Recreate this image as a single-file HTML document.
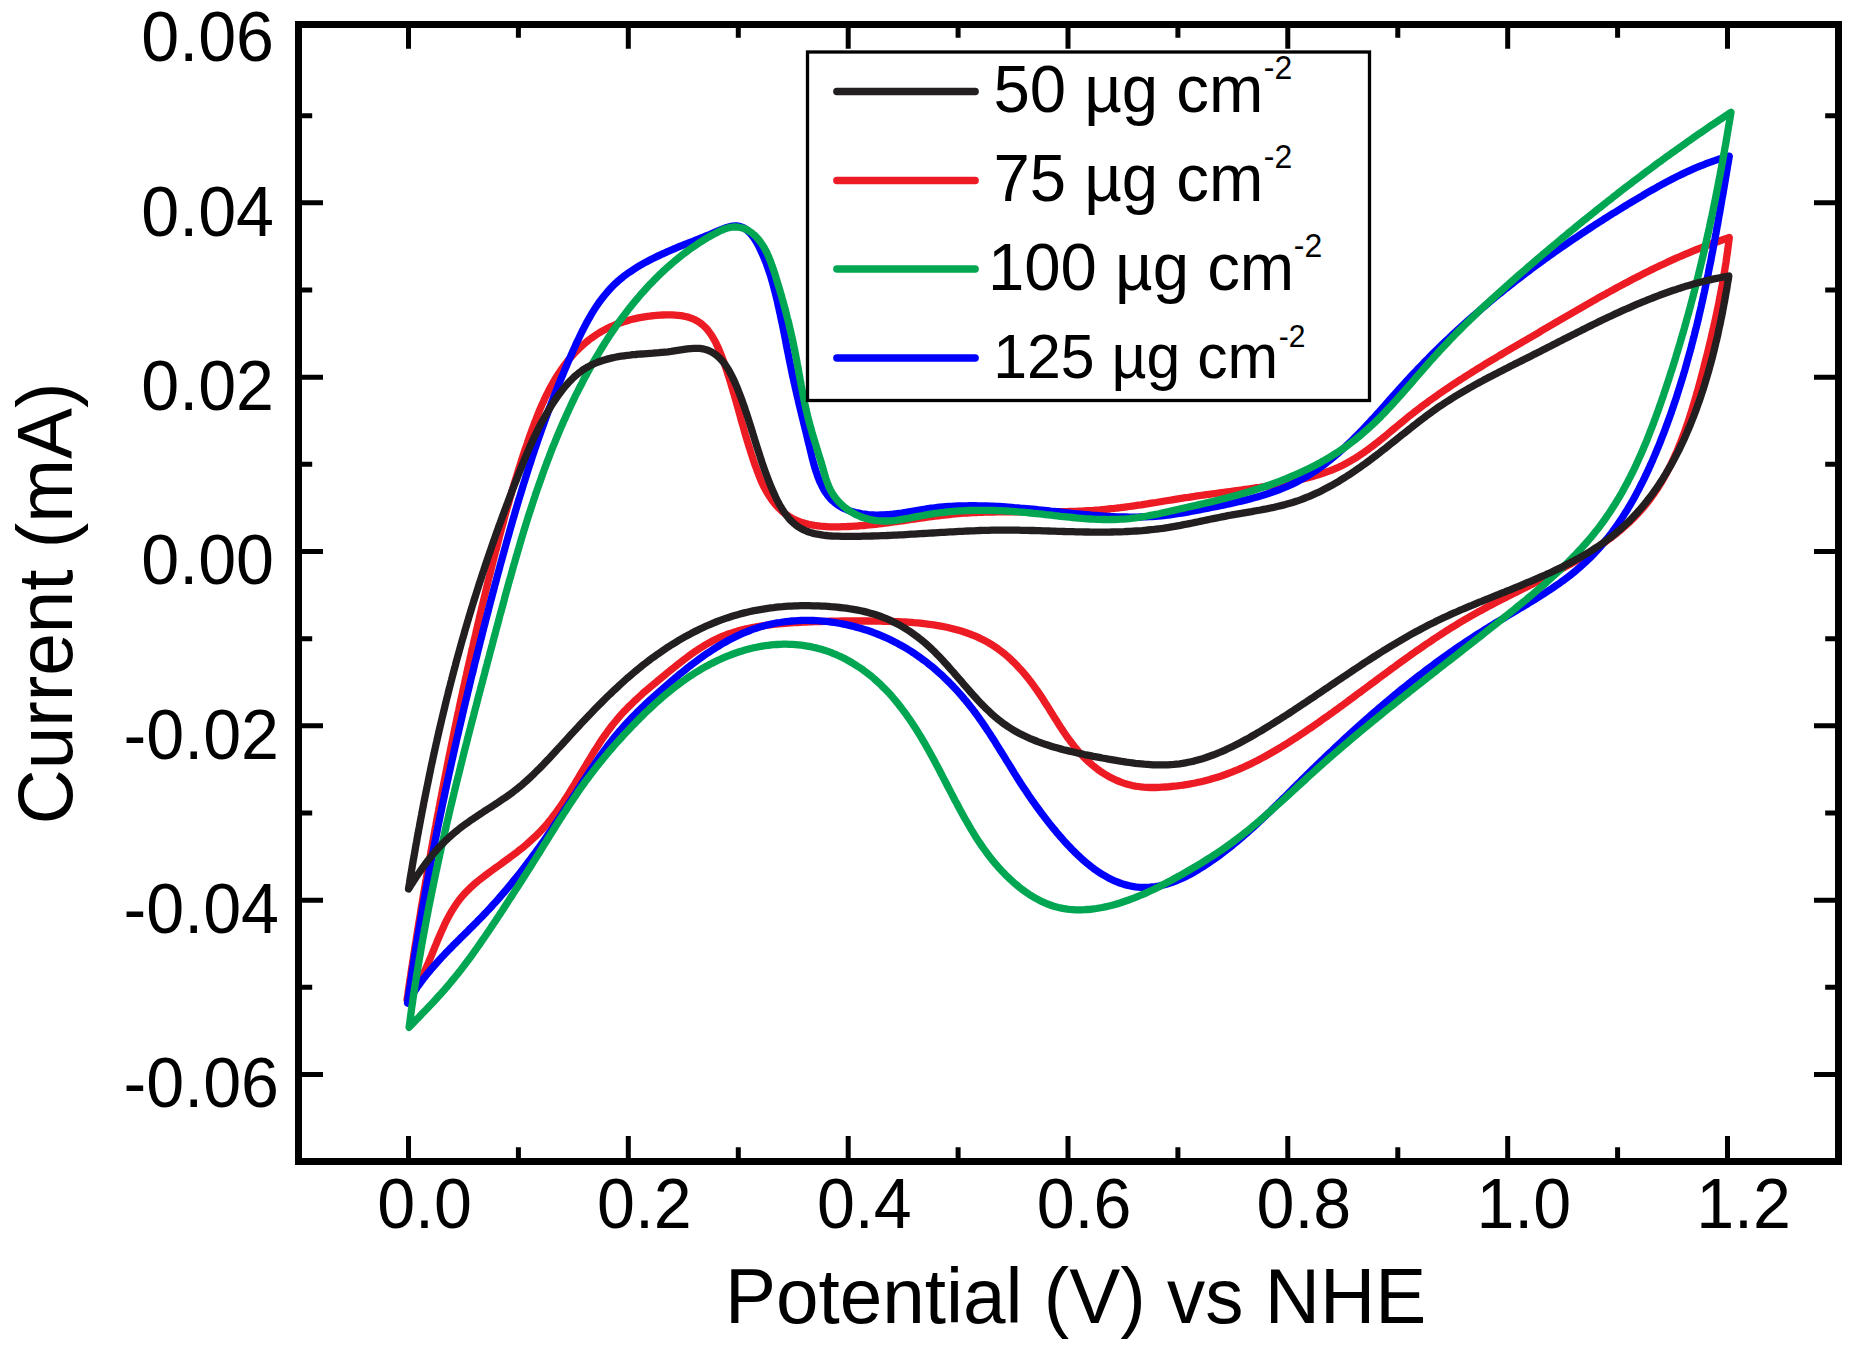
<!DOCTYPE html>
<html lang="en"><head><meta charset="utf-8"><title>Cyclic voltammograms</title>
<style>html,body{margin:0;padding:0;background:#fff}svg{display:block}text{font-family:"Liberation Sans",sans-serif;fill:#000}</style></head><body>
<svg width="1858" height="1350" viewBox="0 0 1858 1350">
<rect width="1858" height="1350" fill="#fff"/>
<g fill="none" stroke-width="7.3" stroke-linejoin="round" stroke-linecap="round">
<path stroke="#ED1C24" d="M407.0,1000.0 407.4,997.0 407.9,994.1 408.3,991.1 408.7,988.2 409.2,985.2 409.6,982.2 410.0,979.3 410.5,976.3 410.9,973.4 411.4,970.4 411.8,967.4 412.3,964.5 412.7,961.5 413.2,958.6 413.6,955.6 414.1,952.6 414.6,949.7 415.0,946.7 415.5,943.7 416.0,940.8 416.4,937.8 416.9,934.9 417.4,931.9 417.9,928.9 418.3,926.0 418.8,923.0 419.3,920.1 419.8,917.1 420.3,914.1 420.8,911.2 421.2,908.2 421.7,905.3 422.2,902.3 422.7,899.3 423.2,896.4 423.7,893.4 424.2,890.5 424.7,887.5 425.2,884.5 425.7,881.6 426.3,878.6 426.8,875.7 427.3,872.7 427.8,869.7 428.3,866.8 428.8,863.8 429.4,860.9 429.9,857.9 430.4,855.0 430.9,852.0 431.5,849.0 432.0,846.1 432.5,843.1 433.1,840.2 433.6,837.2 434.2,834.3 434.7,831.3 435.2,828.3 435.8,825.4 436.3,822.4 436.9,819.5 437.4,816.5 438.0,813.6 438.6,810.6 439.1,807.7 439.7,804.7 440.2,801.8 440.8,798.8 441.4,795.9 441.9,792.9 442.5,790.0 443.1,787.0 443.7,784.1 444.2,781.1 444.8,778.2 445.4,775.2 446.0,772.3 446.6,769.3 447.1,766.4 447.7,763.4 448.3,760.5 448.9,757.5 449.5,754.6 450.1,751.6 450.7,748.7 451.3,745.8 451.9,742.8 452.5,739.9 453.1,736.9 453.7,734.0 454.3,731.0 454.9,728.1 455.6,725.2 456.2,722.2 456.8,719.3 457.4,716.3 458.0,713.4 458.7,710.5 459.3,707.5 459.9,704.6 460.5,701.7 461.2,698.7 461.8,695.8 462.4,692.9 463.1,689.9 463.7,687.0 464.4,684.1 465.0,681.1 465.6,678.2 466.3,675.3 466.9,672.3 467.6,669.4 468.2,666.5 468.9,663.6 469.6,660.6 470.2,657.7 470.9,654.8 471.5,651.9 472.2,648.9 472.9,646.0 473.5,643.1 474.2,640.2 474.9,637.3 475.6,634.3 476.2,631.4 476.9,628.5 477.6,625.6 478.3,622.7 479.0,619.8 479.6,616.8 480.3,613.9 481.0,611.0 481.7,608.1 482.4,605.2 483.1,602.3 483.8,599.4 484.5,596.5 485.2,593.6 485.9,590.7 486.6,587.7 487.3,584.8 488.0,581.9 488.7,579.0 489.4,576.1 490.2,573.2 490.9,570.3 491.6,567.4 492.3,564.5 493.0,561.6 493.8,558.7 494.5,555.9 495.2,553.0 496.0,550.1 496.7,547.2 497.5,544.3 498.2,541.4 499.0,538.5 499.7,535.6 500.5,532.7 501.2,529.8 502.0,527.0 502.8,524.1 503.6,521.2 504.3,518.3 505.1,515.4 505.9,512.5 506.7,509.7 507.5,506.8 508.4,503.9 509.2,501.0 510.0,498.1 510.8,495.3 511.7,492.4 512.5,489.5 513.4,486.6 514.2,483.8 515.1,480.9 516.0,478.0 516.9,475.1 517.8,472.3 518.7,469.4 519.6,466.5 520.5,463.7 521.4,460.8 522.3,457.9 523.3,455.1 524.2,452.2 525.2,449.3 526.2,446.5 527.2,443.6 528.1,440.7 529.1,437.9 530.1,435.0 531.2,432.2 532.2,429.3 533.3,426.5 534.3,423.6 535.4,420.8 536.5,418.0 537.6,415.1 538.8,412.3 539.9,409.5 541.1,406.8 542.3,404.0 543.6,401.3 544.8,398.5 546.1,395.8 547.5,393.1 548.8,390.5 550.2,387.8 551.6,385.2 553.1,382.6 554.6,380.0 556.1,377.5 557.7,375.0 559.3,372.5 561.0,370.0 562.7,367.6 564.4,365.2 566.2,362.9 568.0,360.6 569.9,358.3 571.9,356.0 573.9,353.8 575.9,351.7 578.0,349.6 580.1,347.5 582.3,345.5 584.6,343.5 586.9,341.6 589.3,339.7 591.7,337.9 594.1,336.2 596.6,334.5 599.2,332.9 601.7,331.4 604.4,329.9 607.0,328.6 609.7,327.2 612.5,326.0 615.2,324.8 618.0,323.8 620.9,322.7 623.7,321.8 626.6,320.9 629.5,320.0 632.5,319.3 635.4,318.6 638.4,317.9 641.4,317.4 644.4,316.9 647.5,316.4 650.5,316.0 653.6,315.7 656.7,315.4 659.8,315.1 662.9,315.0 665.9,314.9 669.0,314.8 672.1,314.9 675.1,315.1 678.1,315.3 681.0,315.7 683.9,316.2 686.7,316.8 689.4,317.6 692.1,318.5 694.6,319.6 697.1,320.9 699.4,322.3 701.6,324.0 703.7,325.8 705.7,327.7 707.6,329.8 709.3,332.1 711.0,334.5 712.6,337.0 714.1,339.6 715.6,342.3 716.9,345.1 718.2,347.9 719.5,350.8 720.7,353.7 721.8,356.6 722.9,359.6 724.0,362.6 725.0,365.5 726.0,368.4 727.0,371.4 727.9,374.3 728.9,377.2 729.8,380.1 730.7,383.0 731.5,385.8 732.4,388.7 733.2,391.6 734.1,394.4 734.9,397.3 735.7,400.1 736.5,403.0 737.3,405.8 738.1,408.6 738.9,411.5 739.7,414.3 740.5,417.2 741.2,420.0 742.0,422.9 742.9,425.7 743.7,428.6 744.5,431.5 745.3,434.3 746.2,437.2 747.0,440.1 747.9,442.9 748.8,445.8 749.7,448.7 750.6,451.5 751.5,454.4 752.5,457.3 753.4,460.2 754.4,463.1 755.4,465.9 756.5,468.8 757.5,471.7 758.6,474.5 759.7,477.4 760.9,480.2 762.1,483.0 763.4,485.8 764.8,488.5 766.3,491.2 767.8,493.8 769.4,496.3 771.1,498.8 772.9,501.2 774.7,503.6 776.6,505.8 778.6,507.9 780.7,510.0 782.9,511.9 785.1,513.7 787.4,515.4 789.8,517.0 792.3,518.4 794.9,519.7 797.5,520.8 800.2,521.9 803.0,522.8 805.8,523.6 808.6,524.3 811.5,524.9 814.5,525.4 817.5,525.8 820.5,526.2 823.6,526.4 826.6,526.6 829.7,526.8 832.8,526.8 835.9,526.8 839.1,526.8 842.2,526.7 845.3,526.6 848.4,526.5 851.4,526.4 854.5,526.2 857.6,526.0 860.6,525.7 863.7,525.5 866.7,525.2 869.7,524.9 872.7,524.6 875.7,524.3 878.7,523.9 881.7,523.6 884.7,523.2 887.7,522.8 890.6,522.4 893.6,522.0 896.6,521.6 899.5,521.2 902.5,520.8 905.4,520.3 908.4,519.9 911.3,519.5 914.2,519.1 917.2,518.6 920.1,518.2 923.1,517.8 926.0,517.4 928.9,517.0 931.9,516.6 934.8,516.2 937.7,515.8 940.7,515.5 943.6,515.1 946.5,514.8 949.5,514.5 952.4,514.2 955.4,513.9 958.3,513.6 961.3,513.4 964.3,513.2 967.2,513.0 970.2,512.8 973.2,512.7 976.2,512.5 979.2,512.4 982.1,512.3 985.1,512.2 988.1,512.1 991.1,512.0 994.1,512.0 997.1,511.9 1000.1,511.9 1003.2,511.8 1006.2,511.8 1009.2,511.8 1012.2,511.8 1015.2,511.8 1018.2,511.8 1021.2,511.8 1024.3,511.8 1027.3,511.8 1030.3,511.8 1033.3,511.8 1036.3,511.8 1039.4,511.8 1042.4,511.8 1045.4,511.8 1048.4,511.8 1051.5,511.8 1054.5,511.7 1057.5,511.7 1060.5,511.7 1063.5,511.6 1066.5,511.6 1069.6,511.5 1072.6,511.4 1075.6,511.3 1078.6,511.2 1081.6,511.1 1084.6,510.9 1087.6,510.7 1090.6,510.6 1093.6,510.4 1096.6,510.1 1099.6,509.9 1102.6,509.6 1105.6,509.3 1108.5,509.0 1111.5,508.7 1114.5,508.4 1117.5,508.0 1120.4,507.7 1123.4,507.3 1126.4,506.9 1129.3,506.5 1132.3,506.1 1135.3,505.7 1138.2,505.2 1141.2,504.8 1144.1,504.3 1147.1,503.9 1150.0,503.4 1153.0,502.9 1156.0,502.5 1158.9,502.0 1161.9,501.5 1164.8,501.0 1167.8,500.5 1170.7,500.1 1173.7,499.6 1176.6,499.1 1179.6,498.6 1182.6,498.2 1185.5,497.7 1188.5,497.3 1191.5,496.8 1194.4,496.4 1197.4,495.9 1200.4,495.5 1203.3,495.1 1206.3,494.7 1209.3,494.3 1212.2,493.9 1215.2,493.5 1218.2,493.1 1221.2,492.7 1224.1,492.3 1227.1,491.9 1230.1,491.5 1233.1,491.1 1236.1,490.7 1239.0,490.3 1242.0,489.9 1245.0,489.4 1248.0,489.0 1250.9,488.6 1253.9,488.2 1256.9,487.7 1259.8,487.3 1262.8,486.8 1265.8,486.3 1268.7,485.8 1271.7,485.4 1274.7,484.8 1277.6,484.3 1280.6,483.8 1283.5,483.2 1286.5,482.6 1289.4,482.1 1292.3,481.4 1295.3,480.8 1298.2,480.2 1301.1,479.5 1304.1,478.8 1307.0,478.0 1309.9,477.3 1312.7,476.5 1315.6,475.6 1318.5,474.8 1321.3,473.9 1324.1,472.9 1326.9,471.9 1329.7,470.9 1332.5,469.8 1335.2,468.7 1337.9,467.5 1340.6,466.2 1343.2,464.9 1345.8,463.6 1348.4,462.1 1351.0,460.7 1353.6,459.2 1356.1,457.6 1358.6,456.0 1361.1,454.3 1363.5,452.7 1366.0,450.9 1368.4,449.2 1370.8,447.4 1373.2,445.6 1375.6,443.7 1378.0,441.9 1380.3,440.0 1382.7,438.1 1385.0,436.2 1387.4,434.2 1389.7,432.3 1392.0,430.4 1394.4,428.4 1396.7,426.5 1399.1,424.5 1401.4,422.6 1403.7,420.7 1406.1,418.7 1408.4,416.8 1410.8,414.9 1413.2,413.1 1415.6,411.2 1418.0,409.4 1420.4,407.5 1422.8,405.7 1425.2,403.9 1427.6,402.2 1430.0,400.4 1432.5,398.6 1434.9,396.9 1437.4,395.2 1439.8,393.4 1442.3,391.7 1444.8,390.0 1447.3,388.4 1449.7,386.7 1452.2,385.0 1454.7,383.4 1457.2,381.7 1459.7,380.1 1462.3,378.5 1464.8,376.9 1467.3,375.3 1469.8,373.7 1472.3,372.1 1474.9,370.5 1477.4,368.9 1480.0,367.3 1482.5,365.8 1485.1,364.2 1487.6,362.7 1490.2,361.1 1492.7,359.6 1495.3,358.1 1497.9,356.5 1500.4,355.0 1503.0,353.5 1505.6,351.9 1508.2,350.4 1510.7,348.9 1513.3,347.4 1515.9,345.9 1518.5,344.4 1521.1,342.9 1523.6,341.3 1526.2,339.8 1528.8,338.3 1531.4,336.8 1534.0,335.3 1536.6,333.8 1539.1,332.3 1541.7,330.7 1544.3,329.2 1546.9,327.7 1549.5,326.2 1552.1,324.7 1554.6,323.2 1557.2,321.6 1559.8,320.1 1562.4,318.6 1565.0,317.1 1567.6,315.6 1570.2,314.1 1572.8,312.6 1575.4,311.1 1578.0,309.6 1580.6,308.1 1583.2,306.6 1585.8,305.1 1588.4,303.6 1591.0,302.1 1593.6,300.6 1596.2,299.2 1598.8,297.7 1601.4,296.2 1604.1,294.8 1606.7,293.3 1609.3,291.9 1611.9,290.4 1614.6,289.0 1617.2,287.5 1619.8,286.1 1622.5,284.7 1625.1,283.3 1627.8,281.9 1630.4,280.5 1633.1,279.1 1635.7,277.7 1638.4,276.4 1641.1,275.0 1643.7,273.6 1646.4,272.3 1649.1,271.0 1651.8,269.6 1654.5,268.3 1657.2,267.0 1659.9,265.7 1662.6,264.5 1665.3,263.2 1668.0,261.9 1670.7,260.7 1673.5,259.4 1676.2,258.2 1678.9,257.0 1681.7,255.8 1684.4,254.6 1687.2,253.5 1689.9,252.3 1692.7,251.1 1695.5,250.0 1698.3,248.9 1701.0,247.8 1703.8,246.7 1706.6,245.6 1709.4,244.6 1712.3,243.5 1715.1,242.5 1717.9,241.5 1720.7,240.5 1723.6,239.5 1726.4,238.5 1729.3,237.6 1728.9,240.8 1728.5,243.9 1728.1,247.0 1727.7,250.1 1727.3,253.2 1726.8,256.2 1726.4,259.2 1726.0,262.3 1725.5,265.3 1725.0,268.2 1724.6,271.2 1724.1,274.2 1723.6,277.1 1723.1,280.0 1722.6,282.9 1722.1,285.8 1721.5,288.7 1721.0,291.6 1720.4,294.5 1719.9,297.3 1719.3,300.2 1718.8,303.0 1718.2,305.9 1717.6,308.7 1717.0,311.6 1716.4,314.4 1715.8,317.2 1715.2,320.1 1714.6,322.9 1713.9,325.7 1713.3,328.5 1712.6,331.4 1712.0,334.2 1711.3,337.0 1710.7,339.9 1710.0,342.7 1709.3,345.6 1708.6,348.4 1707.9,351.3 1707.2,354.1 1706.4,357.0 1705.7,359.9 1705.0,362.8 1704.2,365.7 1703.5,368.6 1702.7,371.6 1702.0,374.5 1701.2,377.5 1700.4,380.4 1699.6,383.4 1698.8,386.4 1698.0,389.3 1697.1,392.3 1696.3,395.3 1695.4,398.3 1694.5,401.3 1693.7,404.3 1692.7,407.2 1691.8,410.2 1690.9,413.2 1689.9,416.2 1689.0,419.1 1688.0,422.1 1687.0,425.1 1685.9,428.0 1684.9,430.9 1683.8,433.9 1682.7,436.8 1681.6,439.7 1680.5,442.6 1679.3,445.5 1678.2,448.3 1677.0,451.2 1675.7,454.0 1674.5,456.8 1673.2,459.6 1671.9,462.4 1670.6,465.1 1669.2,467.8 1667.8,470.5 1666.4,473.2 1665.0,475.8 1663.5,478.5 1662.0,481.1 1660.5,483.6 1658.9,486.2 1657.3,488.7 1655.7,491.1 1654.0,493.6 1652.3,496.0 1650.6,498.4 1648.8,500.7 1647.0,503.0 1645.2,505.3 1643.3,507.5 1641.4,509.7 1639.5,511.8 1637.5,514.0 1635.5,516.1 1633.5,518.1 1631.4,520.2 1629.4,522.2 1627.2,524.1 1625.1,526.1 1622.9,528.0 1620.7,529.9 1618.5,531.8 1616.3,533.6 1614.0,535.4 1611.7,537.2 1609.4,538.9 1607.0,540.7 1604.7,542.4 1602.3,544.1 1599.9,545.8 1597.4,547.4 1595.0,549.1 1592.5,550.7 1590.0,552.3 1587.5,553.9 1585.0,555.4 1582.5,557.0 1579.9,558.5 1577.4,560.0 1574.8,561.5 1572.2,563.0 1569.6,564.5 1567.0,565.9 1564.4,567.4 1561.7,568.8 1559.1,570.3 1556.4,571.7 1553.7,573.1 1551.1,574.5 1548.4,575.9 1545.7,577.3 1543.0,578.7 1540.3,580.1 1537.6,581.5 1534.8,582.8 1532.1,584.2 1529.4,585.6 1526.7,586.9 1524.0,588.3 1521.2,589.7 1518.5,591.0 1515.8,592.4 1513.0,593.8 1510.3,595.2 1507.6,596.5 1504.9,597.9 1502.1,599.3 1499.4,600.7 1496.7,602.1 1494.0,603.5 1491.3,604.9 1488.6,606.3 1485.9,607.8 1483.3,609.2 1480.6,610.7 1477.9,612.1 1475.3,613.6 1472.6,615.1 1470.0,616.6 1467.4,618.1 1464.8,619.6 1462.2,621.2 1459.6,622.7 1457.0,624.3 1454.5,625.8 1451.9,627.4 1449.4,629.0 1446.8,630.6 1444.3,632.3 1441.8,633.9 1439.3,635.5 1436.7,637.2 1434.2,638.8 1431.8,640.5 1429.3,642.2 1426.8,643.8 1424.3,645.5 1421.9,647.2 1419.4,648.9 1417.0,650.6 1414.5,652.4 1412.1,654.1 1409.6,655.8 1407.2,657.6 1404.8,659.3 1402.4,661.0 1399.9,662.8 1397.5,664.5 1395.1,666.3 1392.7,668.1 1390.3,669.8 1387.9,671.6 1385.5,673.4 1383.1,675.1 1380.7,676.9 1378.3,678.7 1375.9,680.5 1373.5,682.3 1371.1,684.0 1368.7,685.8 1366.3,687.6 1363.9,689.4 1361.5,691.2 1359.1,692.9 1356.7,694.7 1354.3,696.5 1351.9,698.3 1349.5,700.0 1347.1,701.8 1344.7,703.6 1342.3,705.4 1339.9,707.1 1337.5,708.9 1335.1,710.6 1332.7,712.4 1330.2,714.1 1327.8,715.9 1325.4,717.6 1322.9,719.3 1320.5,721.0 1318.1,722.8 1315.6,724.5 1313.1,726.2 1310.7,727.9 1308.2,729.5 1305.7,731.2 1303.2,732.9 1300.7,734.6 1298.2,736.2 1295.7,737.9 1293.2,739.5 1290.7,741.1 1288.2,742.7 1285.6,744.3 1283.1,745.9 1280.5,747.5 1277.9,749.0 1275.4,750.5 1272.8,752.0 1270.2,753.5 1267.6,755.0 1264.9,756.5 1262.3,757.9 1259.7,759.3 1257.0,760.7 1254.3,762.0 1251.7,763.4 1249.0,764.7 1246.3,765.9 1243.5,767.2 1240.8,768.4 1238.1,769.6 1235.3,770.7 1232.5,771.8 1229.7,772.9 1226.9,774.0 1224.1,775.0 1221.3,776.0 1218.4,776.9 1215.6,777.8 1212.7,778.6 1209.8,779.5 1206.9,780.2 1204.0,781.0 1201.0,781.7 1198.1,782.3 1195.1,783.0 1192.2,783.5 1189.2,784.1 1186.2,784.6 1183.2,785.1 1180.2,785.5 1177.2,785.9 1174.2,786.2 1171.2,786.5 1168.1,786.8 1165.1,787.0 1162.1,787.2 1159.0,787.4 1156.0,787.5 1153.0,787.5 1150.0,787.5 1147.0,787.4 1144.0,787.2 1141.0,786.9 1138.1,786.5 1135.1,786.1 1132.2,785.5 1129.4,784.8 1126.5,784.0 1123.7,783.1 1120.9,782.1 1118.2,781.0 1115.4,779.8 1112.8,778.6 1110.1,777.2 1107.5,775.8 1105.0,774.2 1102.4,772.6 1100.0,771.0 1097.5,769.2 1095.2,767.4 1092.8,765.5 1090.6,763.6 1088.3,761.6 1086.2,759.5 1084.0,757.4 1082.0,755.3 1080.0,753.1 1078.0,750.9 1076.1,748.6 1074.2,746.3 1072.4,743.9 1070.6,741.5 1068.8,739.1 1067.0,736.7 1065.3,734.2 1063.6,731.7 1062.0,729.2 1060.3,726.7 1058.7,724.2 1057.1,721.6 1055.4,719.0 1053.8,716.5 1052.2,713.9 1050.6,711.3 1049.0,708.7 1047.4,706.1 1045.7,703.6 1044.1,701.0 1042.5,698.4 1040.8,695.9 1039.1,693.4 1037.4,690.9 1035.6,688.4 1033.8,685.9 1032.0,683.4 1030.2,681.0 1028.3,678.6 1026.5,676.3 1024.5,673.9 1022.6,671.7 1020.6,669.4 1018.5,667.2 1016.5,665.0 1014.4,662.9 1012.3,660.8 1010.1,658.7 1007.9,656.7 1005.6,654.8 1003.3,652.9 1001.0,651.1 998.6,649.3 996.2,647.6 993.8,646.0 991.3,644.4 988.7,642.8 986.1,641.4 983.5,640.0 980.9,638.7 978.2,637.4 975.4,636.2 972.7,635.1 969.9,634.0 967.0,633.0 964.2,632.0 961.3,631.1 958.5,630.3 955.6,629.5 952.7,628.7 949.7,628.0 946.8,627.3 943.9,626.7 940.9,626.2 937.9,625.6 935.0,625.1 932.0,624.7 929.0,624.3 926.0,623.9 923.0,623.5 920.0,623.2 917.0,622.9 914.0,622.7 911.0,622.4 907.9,622.2 904.9,622.0 901.9,621.9 898.9,621.7 895.8,621.6 892.8,621.5 889.8,621.4 886.8,621.3 883.8,621.3 880.8,621.2 877.7,621.1 874.7,621.1 871.8,621.1 868.8,621.0 865.8,621.0 862.8,621.0 859.8,621.0 856.8,621.0 853.9,621.0 850.9,621.0 847.9,621.0 844.9,621.0 842.0,621.0 839.0,621.1 836.0,621.1 833.1,621.2 830.1,621.2 827.1,621.3 824.1,621.4 821.1,621.5 818.2,621.6 815.2,621.7 812.2,621.8 809.2,621.9 806.2,622.0 803.1,622.2 800.1,622.3 797.1,622.5 794.1,622.6 791.1,622.8 788.0,623.1 785.0,623.3 782.0,623.5 778.9,623.8 775.9,624.1 772.9,624.4 769.9,624.8 766.9,625.2 763.9,625.6 760.9,626.0 757.9,626.5 755.0,627.1 752.0,627.6 749.1,628.2 746.2,628.9 743.3,629.6 740.4,630.3 737.5,631.1 734.7,632.0 731.9,632.9 729.1,633.8 726.3,634.8 723.5,635.9 720.8,637.0 718.1,638.2 715.4,639.5 712.8,640.8 710.2,642.2 707.6,643.6 705.0,645.1 702.5,646.7 700.0,648.3 697.5,649.9 695.0,651.6 692.6,653.3 690.1,655.0 687.7,656.8 685.3,658.6 682.9,660.5 680.5,662.3 678.1,664.2 675.7,666.1 673.4,668.0 671.0,669.9 668.7,671.8 666.3,673.7 664.0,675.7 661.6,677.6 659.3,679.5 657.0,681.4 654.7,683.4 652.3,685.3 650.0,687.2 647.7,689.2 645.5,691.1 643.2,693.1 641.0,695.1 638.8,697.1 636.6,699.1 634.4,701.2 632.2,703.3 630.1,705.3 628.0,707.4 625.9,709.6 623.8,711.7 621.8,713.9 619.8,716.1 617.9,718.4 616.0,720.7 614.1,723.0 612.2,725.3 610.4,727.7 608.6,730.1 606.9,732.5 605.1,735.0 603.4,737.4 601.7,739.9 600.0,742.4 598.4,745.0 596.8,747.5 595.1,750.0 593.5,752.6 591.9,755.2 590.4,757.8 588.8,760.4 587.2,763.0 585.7,765.6 584.1,768.2 582.5,770.8 581.0,773.4 579.4,776.0 577.9,778.6 576.3,781.2 574.8,783.8 573.2,786.4 571.6,789.0 570.0,791.6 568.4,794.1 566.8,796.7 565.1,799.2 563.5,801.7 561.8,804.2 560.1,806.7 558.4,809.1 556.7,811.6 554.9,814.0 553.1,816.3 551.3,818.7 549.4,821.0 547.6,823.3 545.6,825.6 543.7,827.8 541.7,830.0 539.7,832.1 537.6,834.2 535.5,836.3 533.3,838.3 531.1,840.3 528.9,842.3 526.7,844.3 524.4,846.2 522.1,848.1 519.7,849.9 517.4,851.8 515.0,853.6 512.6,855.4 510.2,857.2 507.8,859.0 505.3,860.8 502.9,862.5 500.5,864.3 498.0,866.1 495.6,867.8 493.1,869.6 490.7,871.4 488.2,873.2 485.8,875.0 483.4,876.8 481.1,878.6 478.7,880.5 476.4,882.4 474.2,884.3 472.0,886.3 469.8,888.3 467.7,890.4 465.6,892.5 463.6,894.7 461.7,896.9 459.8,899.2 458.0,901.6 456.3,904.0 454.7,906.4 453.1,908.9 451.5,911.5 450.0,914.1 448.6,916.7 447.2,919.3 445.8,922.0 444.5,924.7 443.3,927.4 442.0,930.2 440.8,932.9 439.6,935.7 438.4,938.5 437.2,941.3 436.1,944.1 434.9,946.9 433.8,949.8 432.6,952.6 431.5,955.4 430.3,958.2 429.1,961.0 428.0,963.8 426.7,966.6 425.5,969.3 424.2,972.0 422.9,974.8 421.6,977.4 420.2,980.1 418.7,982.7 417.2,985.3 415.7,987.9 414.1,990.4 412.4,992.9 410.7,995.3 408.9,997.7 407.0,1000.0Z"/>
<path stroke="#0000FF" d="M407.5,1003.1 407.9,1000.1 408.3,997.2 408.8,994.2 409.2,991.2 409.6,988.3 410.1,985.3 410.5,982.3 411.0,979.3 411.4,976.4 411.8,973.4 412.3,970.4 412.8,967.5 413.2,964.5 413.7,961.5 414.1,958.6 414.6,955.6 415.1,952.7 415.6,949.7 416.0,946.7 416.5,943.8 417.0,940.8 417.5,937.8 418.0,934.9 418.5,931.9 419.0,929.0 419.5,926.0 420.0,923.0 420.5,920.1 421.0,917.1 421.5,914.2 422.0,911.2 422.5,908.2 423.1,905.3 423.6,902.3 424.1,899.4 424.6,896.4 425.2,893.5 425.7,890.5 426.2,887.6 426.8,884.6 427.3,881.6 427.9,878.7 428.4,875.7 429.0,872.8 429.5,869.8 430.1,866.9 430.7,863.9 431.2,861.0 431.8,858.0 432.3,855.1 432.9,852.1 433.5,849.2 434.1,846.2 434.7,843.3 435.2,840.3 435.8,837.4 436.4,834.5 437.0,831.5 437.6,828.6 438.2,825.6 438.8,822.7 439.4,819.7 440.0,816.8 440.6,813.8 441.2,810.9 441.8,808.0 442.4,805.0 443.0,802.1 443.7,799.1 444.3,796.2 444.9,793.3 445.5,790.3 446.2,787.4 446.8,784.4 447.4,781.5 448.1,778.6 448.7,775.6 449.3,772.7 450.0,769.8 450.6,766.8 451.3,763.9 451.9,761.0 452.6,758.0 453.2,755.1 453.9,752.2 454.6,749.2 455.2,746.3 455.9,743.4 456.5,740.4 457.2,737.5 457.9,734.6 458.6,731.7 459.2,728.7 459.9,725.8 460.6,722.9 461.3,719.9 462.0,717.0 462.6,714.1 463.3,711.2 464.0,708.2 464.7,705.3 465.4,702.4 466.1,699.5 466.8,696.6 467.5,693.6 468.2,690.7 468.9,687.8 469.6,684.9 470.3,681.9 471.0,679.0 471.7,676.1 472.5,673.2 473.2,670.3 473.9,667.4 474.6,664.4 475.3,661.5 476.1,658.6 476.8,655.7 477.5,652.8 478.2,649.9 479.0,647.0 479.7,644.0 480.4,641.1 481.2,638.2 481.9,635.3 482.6,632.4 483.4,629.5 484.1,626.6 484.9,623.7 485.6,620.8 486.4,617.9 487.1,615.0 487.9,612.1 488.6,609.1 489.4,606.2 490.1,603.3 490.9,600.4 491.7,597.5 492.4,594.6 493.2,591.7 494.0,588.8 494.7,585.9 495.5,583.0 496.3,580.1 497.0,577.2 497.8,574.3 498.6,571.4 499.4,568.5 500.1,565.6 500.9,562.7 501.7,559.9 502.5,557.0 503.3,554.1 504.1,551.2 504.9,548.3 505.7,545.4 506.5,542.5 507.3,539.6 508.1,536.7 508.9,533.9 509.7,531.0 510.5,528.1 511.4,525.2 512.2,522.3 513.0,519.4 513.9,516.6 514.7,513.7 515.5,510.8 516.4,507.9 517.2,505.1 518.1,502.2 518.9,499.3 519.8,496.5 520.7,493.6 521.6,490.7 522.4,487.9 523.3,485.0 524.2,482.1 525.1,479.3 526.0,476.4 526.9,473.6 527.8,470.7 528.7,467.9 529.6,465.0 530.6,462.2 531.5,459.3 532.4,456.5 533.4,453.6 534.3,450.8 535.3,447.9 536.3,445.1 537.2,442.3 538.2,439.4 539.2,436.6 540.2,433.8 541.2,430.9 542.2,428.1 543.2,425.3 544.2,422.5 545.2,419.7 546.3,416.8 547.3,414.0 548.3,411.2 549.4,408.4 550.5,405.6 551.5,402.8 552.6,400.0 553.7,397.2 554.8,394.4 555.9,391.6 557.0,388.8 558.1,386.0 559.2,383.2 560.4,380.4 561.5,377.6 562.7,374.9 563.8,372.1 565.0,369.3 566.2,366.5 567.3,363.8 568.5,361.0 569.8,358.2 571.0,355.5 572.2,352.7 573.4,350.0 574.7,347.2 575.9,344.4 577.2,341.7 578.5,339.0 579.8,336.2 581.1,333.5 582.4,330.8 583.8,328.1 585.2,325.5 586.6,322.8 588.0,320.2 589.5,317.6 591.0,315.0 592.5,312.4 594.1,309.9 595.7,307.4 597.3,305.0 599.0,302.5 600.8,300.1 602.6,297.8 604.4,295.5 606.3,293.2 608.2,291.0 610.2,288.8 612.2,286.6 614.3,284.5 616.5,282.5 618.7,280.5 621.0,278.6 623.3,276.7 625.7,274.9 628.2,273.1 630.7,271.4 633.2,269.7 635.8,268.0 638.4,266.4 641.0,264.9 643.6,263.4 646.3,261.9 649.0,260.5 651.8,259.0 654.5,257.7 657.2,256.4 660.0,255.1 662.7,253.8 665.5,252.6 668.2,251.3 671.0,250.2 673.7,249.0 676.4,247.9 679.2,246.7 681.9,245.6 684.6,244.5 687.4,243.5 690.1,242.4 692.9,241.3 695.6,240.2 698.4,239.1 701.2,238.0 703.9,236.9 706.7,235.7 709.6,234.6 712.4,233.4 715.2,232.2 718.1,230.9 721.0,229.7 723.8,228.6 726.7,227.5 729.5,226.7 732.3,226.1 735.0,225.9 737.7,226.0 740.3,226.6 742.8,227.5 745.2,228.8 747.4,230.5 749.5,232.5 751.5,234.7 753.4,237.2 755.1,239.8 756.8,242.6 758.4,245.5 759.8,248.4 761.2,251.4 762.5,254.3 763.8,257.2 765.0,260.1 766.1,262.9 767.1,265.8 768.1,268.6 769.1,271.4 770.0,274.2 770.9,277.0 771.7,279.8 772.5,282.5 773.3,285.3 774.0,288.2 774.8,291.0 775.5,293.8 776.2,296.7 776.9,299.6 777.6,302.5 778.2,305.4 778.9,308.3 779.5,311.3 780.2,314.2 780.8,317.2 781.4,320.1 782.1,323.1 782.7,326.1 783.3,329.1 783.9,332.1 784.5,335.1 785.1,338.1 785.7,341.1 786.2,344.1 786.8,347.0 787.4,350.0 788.0,353.0 788.6,356.0 789.2,359.0 789.8,362.0 790.4,364.9 791.0,367.9 791.6,370.8 792.2,373.7 792.8,376.6 793.5,379.5 794.1,382.4 794.8,385.3 795.4,388.2 796.1,391.1 796.7,393.9 797.4,396.8 798.1,399.6 798.7,402.5 799.4,405.3 800.1,408.2 800.8,411.1 801.5,413.9 802.2,416.8 802.9,419.7 803.6,422.6 804.3,425.5 805.0,428.4 805.8,431.3 806.5,434.2 807.2,437.2 807.9,440.2 808.6,443.1 809.4,446.2 810.1,449.2 810.8,452.2 811.6,455.3 812.3,458.3 813.1,461.4 813.9,464.4 814.8,467.4 815.7,470.4 816.7,473.3 817.7,476.2 818.8,479.1 819.9,481.8 821.2,484.5 822.5,487.1 823.9,489.7 825.4,492.1 827.1,494.5 828.8,496.7 830.6,498.8 832.6,500.8 834.7,502.6 837.0,504.4 839.3,505.9 841.8,507.4 844.5,508.7 847.2,509.8 850.0,510.9 852.9,511.8 855.9,512.6 858.9,513.2 861.9,513.8 865.0,514.2 868.1,514.6 871.3,514.8 874.4,515.0 877.5,515.1 880.6,515.0 883.7,514.9 886.7,514.7 889.7,514.5 892.8,514.2 895.7,513.8 898.7,513.4 901.7,513.0 904.6,512.5 907.6,512.0 910.5,511.5 913.5,511.0 916.4,510.5 919.3,510.0 922.2,509.5 925.2,509.1 928.1,508.6 931.0,508.2 934.0,507.9 936.9,507.5 939.8,507.2 942.8,506.9 945.8,506.7 948.7,506.5 951.7,506.3 954.6,506.1 957.6,506.0 960.6,505.9 963.5,505.8 966.5,505.8 969.5,505.7 972.5,505.7 975.4,505.7 978.4,505.8 981.4,505.8 984.4,505.9 987.4,506.0 990.4,506.1 993.4,506.2 996.4,506.4 999.4,506.5 1002.4,506.7 1005.4,506.9 1008.4,507.1 1011.4,507.3 1014.4,507.6 1017.4,507.8 1020.4,508.1 1023.4,508.3 1026.4,508.6 1029.4,508.9 1032.4,509.2 1035.5,509.5 1038.5,509.8 1041.5,510.1 1044.5,510.4 1047.5,510.7 1050.5,511.1 1053.5,511.4 1056.5,511.7 1059.5,512.0 1062.6,512.3 1065.6,512.7 1068.6,513.0 1071.6,513.3 1074.6,513.6 1077.6,513.9 1080.6,514.2 1083.6,514.5 1086.6,514.7 1089.6,515.0 1092.6,515.3 1095.6,515.5 1098.6,515.7 1101.6,515.9 1104.6,516.1 1107.6,516.3 1110.6,516.5 1113.6,516.6 1116.6,516.8 1119.6,516.9 1122.6,517.0 1125.5,517.0 1128.5,517.1 1131.5,517.1 1134.5,517.1 1137.4,517.1 1140.4,517.0 1143.4,516.9 1146.3,516.8 1149.3,516.7 1152.3,516.5 1155.2,516.3 1158.2,516.1 1161.1,515.8 1164.1,515.5 1167.0,515.2 1169.9,514.8 1172.9,514.4 1175.8,514.0 1178.8,513.5 1181.7,513.1 1184.6,512.6 1187.6,512.1 1190.5,511.5 1193.5,511.0 1196.4,510.4 1199.4,509.9 1202.3,509.3 1205.3,508.7 1208.3,508.1 1211.2,507.5 1214.2,506.9 1217.2,506.3 1220.2,505.7 1223.2,505.1 1226.2,504.5 1229.2,503.8 1232.2,503.2 1235.2,502.5 1238.2,501.8 1241.2,501.1 1244.1,500.4 1247.1,499.6 1250.1,498.9 1253.0,498.1 1256.0,497.3 1258.9,496.4 1261.8,495.6 1264.7,494.7 1267.6,493.8 1270.5,492.8 1273.4,491.8 1276.2,490.8 1279.0,489.8 1281.8,488.7 1284.6,487.5 1287.3,486.4 1290.0,485.2 1292.7,483.9 1295.4,482.6 1298.0,481.3 1300.6,479.9 1303.2,478.4 1305.7,477.0 1308.3,475.5 1310.7,473.9 1313.2,472.3 1315.7,470.7 1318.1,469.0 1320.5,467.3 1322.9,465.6 1325.2,463.8 1327.5,462.0 1329.9,460.2 1332.1,458.3 1334.4,456.4 1336.7,454.5 1338.9,452.5 1341.1,450.6 1343.3,448.6 1345.5,446.6 1347.7,444.5 1349.9,442.4 1352.0,440.4 1354.1,438.2 1356.2,436.1 1358.4,434.0 1360.5,431.8 1362.5,429.7 1364.6,427.5 1366.7,425.3 1368.8,423.1 1370.8,420.8 1372.9,418.6 1374.9,416.4 1376.9,414.1 1379.0,411.9 1381.0,409.6 1383.0,407.3 1385.0,405.1 1387.1,402.8 1389.1,400.5 1391.1,398.3 1393.1,396.0 1395.2,393.7 1397.2,391.5 1399.2,389.2 1401.2,387.0 1403.3,384.7 1405.3,382.5 1407.3,380.2 1409.4,378.0 1411.4,375.8 1413.5,373.6 1415.6,371.4 1417.6,369.2 1419.7,367.1 1421.8,364.9 1423.9,362.7 1426.0,360.6 1428.1,358.5 1430.2,356.3 1432.3,354.2 1434.4,352.1 1436.6,350.0 1438.7,347.9 1440.8,345.8 1443.0,343.8 1445.1,341.7 1447.3,339.6 1449.5,337.6 1451.6,335.5 1453.8,333.5 1456.0,331.5 1458.2,329.5 1460.4,327.5 1462.6,325.5 1464.8,323.5 1467.0,321.5 1469.2,319.5 1471.5,317.5 1473.7,315.6 1475.9,313.6 1478.2,311.7 1480.5,309.7 1482.7,307.8 1485.0,305.9 1487.3,304.0 1489.5,302.0 1491.8,300.1 1494.1,298.2 1496.4,296.3 1498.7,294.5 1501.1,292.6 1503.4,290.7 1505.7,288.8 1508.1,287.0 1510.4,285.1 1512.7,283.3 1515.1,281.4 1517.5,279.6 1519.8,277.8 1522.2,276.0 1524.6,274.1 1527.0,272.3 1529.4,270.5 1531.8,268.7 1534.2,266.9 1536.6,265.1 1539.1,263.4 1541.5,261.6 1543.9,259.8 1546.4,258.1 1548.8,256.3 1551.3,254.6 1553.7,252.8 1556.2,251.1 1558.7,249.3 1561.1,247.6 1563.6,245.9 1566.1,244.2 1568.6,242.5 1571.1,240.8 1573.6,239.1 1576.1,237.4 1578.6,235.7 1581.1,234.0 1583.6,232.4 1586.1,230.7 1588.6,229.1 1591.2,227.4 1593.7,225.8 1596.2,224.1 1598.7,222.5 1601.3,220.9 1603.8,219.2 1606.4,217.6 1608.9,216.0 1611.5,214.4 1614.0,212.8 1616.6,211.3 1619.1,209.7 1621.7,208.1 1624.2,206.5 1626.8,205.0 1629.4,203.4 1631.9,201.9 1634.5,200.3 1637.1,198.8 1639.6,197.3 1642.2,195.8 1644.8,194.2 1647.4,192.7 1650.0,191.2 1652.5,189.8 1655.1,188.3 1657.7,186.8 1660.3,185.4 1662.9,183.9 1665.6,182.5 1668.2,181.1 1670.8,179.7 1673.5,178.4 1676.1,177.0 1678.8,175.7 1681.5,174.4 1684.2,173.1 1686.9,171.8 1689.6,170.6 1692.3,169.4 1695.0,168.2 1697.8,167.0 1700.6,165.9 1703.4,164.8 1706.2,163.7 1709.0,162.6 1711.8,161.6 1714.7,160.6 1717.6,159.6 1720.5,158.7 1723.4,157.8 1726.3,156.9 1729.3,156.1 1728.8,159.1 1728.3,162.1 1727.8,165.0 1727.3,168.0 1726.8,171.0 1726.3,174.0 1725.8,176.9 1725.3,179.9 1724.8,182.9 1724.3,185.9 1723.8,188.8 1723.3,191.8 1722.8,194.8 1722.2,197.7 1721.7,200.7 1721.2,203.6 1720.7,206.6 1720.2,209.6 1719.7,212.5 1719.1,215.5 1718.6,218.4 1718.1,221.4 1717.6,224.4 1717.0,227.3 1716.5,230.3 1716.0,233.2 1715.4,236.2 1714.9,239.1 1714.3,242.1 1713.8,245.0 1713.2,248.0 1712.7,250.9 1712.1,253.8 1711.5,256.8 1711.0,259.7 1710.4,262.7 1709.8,265.6 1709.2,268.5 1708.6,271.5 1708.1,274.4 1707.5,277.3 1706.9,280.3 1706.2,283.2 1705.6,286.1 1705.0,289.0 1704.4,292.0 1703.7,294.9 1703.1,297.8 1702.5,300.7 1701.8,303.6 1701.2,306.5 1700.5,309.5 1699.8,312.4 1699.1,315.3 1698.5,318.2 1697.8,321.1 1697.1,324.0 1696.4,326.9 1695.6,329.8 1694.9,332.7 1694.2,335.6 1693.4,338.5 1692.7,341.4 1691.9,344.3 1691.2,347.2 1690.4,350.1 1689.6,353.0 1688.8,355.8 1688.0,358.7 1687.2,361.6 1686.4,364.5 1685.6,367.4 1684.8,370.3 1683.9,373.1 1683.1,376.0 1682.2,378.9 1681.3,381.7 1680.4,384.6 1679.5,387.5 1678.6,390.3 1677.7,393.2 1676.8,396.1 1675.9,398.9 1674.9,401.8 1673.9,404.6 1673.0,407.5 1672.0,410.3 1671.0,413.2 1670.0,416.0 1669.0,418.9 1667.9,421.7 1666.9,424.6 1665.8,427.4 1664.8,430.2 1663.7,433.1 1662.6,435.9 1661.5,438.7 1660.4,441.6 1659.3,444.4 1658.1,447.2 1656.9,450.0 1655.8,452.8 1654.6,455.6 1653.4,458.4 1652.2,461.2 1650.9,464.0 1649.7,466.8 1648.4,469.6 1647.1,472.3 1645.8,475.1 1644.5,477.8 1643.2,480.6 1641.8,483.3 1640.4,486.0 1639.1,488.7 1637.6,491.4 1636.2,494.1 1634.8,496.7 1633.3,499.4 1631.8,502.0 1630.3,504.6 1628.8,507.2 1627.2,509.8 1625.6,512.3 1624.0,514.9 1622.4,517.4 1620.8,519.9 1619.1,522.4 1617.4,524.8 1615.7,527.3 1613.9,529.7 1612.2,532.1 1610.4,534.5 1608.6,536.8 1606.7,539.1 1604.8,541.4 1603.0,543.7 1601.0,546.0 1599.1,548.2 1597.1,550.4 1595.1,552.5 1593.1,554.7 1591.0,556.8 1588.9,558.9 1586.8,560.9 1584.7,562.9 1582.5,564.9 1580.3,566.9 1578.0,568.8 1575.8,570.7 1573.5,572.6 1571.2,574.5 1568.8,576.3 1566.5,578.1 1564.1,579.9 1561.7,581.6 1559.3,583.4 1556.8,585.1 1554.4,586.8 1551.9,588.5 1549.4,590.1 1546.9,591.8 1544.4,593.4 1541.9,595.0 1539.3,596.6 1536.8,598.2 1534.2,599.8 1531.6,601.4 1529.0,603.0 1526.5,604.6 1523.9,606.1 1521.3,607.7 1518.7,609.2 1516.0,610.8 1513.4,612.3 1510.8,613.9 1508.2,615.4 1505.6,617.0 1503.0,618.5 1500.4,620.1 1497.8,621.6 1495.2,623.2 1492.6,624.8 1490.0,626.4 1487.4,628.0 1484.8,629.6 1482.3,631.2 1479.7,632.8 1477.2,634.4 1474.6,636.1 1472.1,637.7 1469.6,639.4 1467.0,641.0 1464.5,642.7 1462.0,644.4 1459.5,646.1 1457.0,647.8 1454.6,649.5 1452.1,651.2 1449.6,653.0 1447.2,654.7 1444.7,656.4 1442.3,658.2 1439.8,660.0 1437.4,661.7 1435.0,663.5 1432.6,665.3 1430.1,667.1 1427.7,668.9 1425.3,670.7 1423.0,672.5 1420.6,674.3 1418.2,676.2 1415.8,678.0 1413.5,679.9 1411.1,681.7 1408.8,683.6 1406.4,685.5 1404.1,687.3 1401.7,689.2 1399.4,691.1 1397.1,693.0 1394.8,694.9 1392.5,696.8 1390.2,698.7 1387.9,700.7 1385.6,702.6 1383.3,704.5 1381.0,706.5 1378.7,708.4 1376.4,710.4 1374.2,712.3 1371.9,714.3 1369.7,716.3 1367.4,718.2 1365.2,720.2 1362.9,722.2 1360.7,724.2 1358.5,726.2 1356.2,728.2 1354.0,730.2 1351.8,732.2 1349.6,734.2 1347.4,736.3 1345.2,738.3 1343.0,740.3 1340.8,742.4 1338.6,744.4 1336.4,746.5 1334.2,748.5 1332.1,750.6 1329.9,752.6 1327.7,754.7 1325.6,756.7 1323.4,758.8 1321.2,760.9 1319.1,763.0 1316.9,765.0 1314.8,767.1 1312.6,769.2 1310.5,771.3 1308.4,773.4 1306.2,775.5 1304.1,777.6 1302.0,779.7 1299.9,781.8 1297.7,783.9 1295.6,786.0 1293.5,788.1 1291.4,790.3 1289.3,792.4 1287.2,794.5 1285.1,796.6 1282.9,798.7 1280.8,800.8 1278.7,802.9 1276.6,805.0 1274.4,807.1 1272.3,809.2 1270.2,811.3 1268.0,813.4 1265.9,815.5 1263.7,817.5 1261.5,819.6 1259.4,821.6 1257.2,823.7 1255.0,825.7 1252.8,827.8 1250.5,829.8 1248.3,831.8 1246.1,833.8 1243.8,835.7 1241.5,837.7 1239.2,839.7 1236.9,841.6 1234.6,843.5 1232.3,845.4 1229.9,847.3 1227.6,849.2 1225.2,851.0 1222.8,852.9 1220.3,854.7 1217.9,856.5 1215.4,858.3 1212.9,860.1 1210.4,861.8 1207.9,863.5 1205.3,865.2 1202.7,866.9 1200.1,868.5 1197.5,870.1 1194.8,871.7 1192.1,873.2 1189.4,874.7 1186.7,876.1 1184.0,877.4 1181.2,878.7 1178.4,879.9 1175.6,881.1 1172.8,882.2 1170.0,883.1 1167.1,884.0 1164.3,884.8 1161.4,885.5 1158.5,886.1 1155.6,886.6 1152.7,886.9 1149.8,887.2 1146.8,887.3 1143.9,887.4 1141.0,887.3 1138.1,887.1 1135.3,886.8 1132.4,886.4 1129.6,885.8 1126.8,885.1 1124.0,884.4 1121.3,883.5 1118.6,882.5 1115.9,881.4 1113.2,880.3 1110.6,879.0 1108.0,877.7 1105.4,876.2 1102.8,874.7 1100.3,873.1 1097.8,871.5 1095.3,869.8 1092.9,868.0 1090.5,866.1 1088.1,864.2 1085.7,862.2 1083.4,860.2 1081.1,858.1 1078.8,856.0 1076.5,853.9 1074.3,851.7 1072.1,849.5 1070.0,847.2 1067.8,845.0 1065.7,842.7 1063.6,840.4 1061.6,838.0 1059.5,835.7 1057.5,833.4 1055.6,831.0 1053.6,828.7 1051.7,826.3 1049.8,824.0 1048.0,821.6 1046.1,819.3 1044.3,816.9 1042.5,814.6 1040.8,812.2 1039.0,809.8 1037.3,807.5 1035.6,805.1 1033.9,802.7 1032.2,800.3 1030.5,797.9 1028.8,795.5 1027.2,793.0 1025.6,790.6 1023.9,788.1 1022.3,785.7 1020.7,783.2 1019.1,780.7 1017.5,778.2 1015.9,775.6 1014.3,773.1 1012.8,770.6 1011.2,768.0 1009.6,765.4 1008.0,762.9 1006.4,760.3 1004.8,757.7 1003.2,755.1 1001.6,752.5 1000.0,750.0 998.4,747.4 996.8,744.8 995.2,742.2 993.6,739.6 991.9,737.1 990.3,734.5 988.6,732.0 986.9,729.4 985.2,726.9 983.5,724.4 981.8,721.9 980.0,719.4 978.3,716.9 976.5,714.5 974.7,712.0 972.9,709.6 971.0,707.2 969.1,704.9 967.3,702.5 965.3,700.2 963.4,697.9 961.5,695.6 959.5,693.3 957.5,691.1 955.5,688.9 953.4,686.7 951.3,684.6 949.2,682.4 947.1,680.3 945.0,678.3 942.8,676.2 940.7,674.2 938.4,672.2 936.2,670.3 934.0,668.3 931.7,666.4 929.4,664.6 927.1,662.7 924.7,660.9 922.4,659.2 920.0,657.4 917.6,655.7 915.1,654.0 912.7,652.4 910.2,650.8 907.7,649.2 905.1,647.7 902.6,646.2 900.0,644.8 897.4,643.3 894.7,642.0 892.1,640.6 889.4,639.3 886.7,638.0 884.0,636.8 881.2,635.6 878.4,634.5 875.6,633.4 872.8,632.3 870.0,631.3 867.1,630.3 864.2,629.4 861.3,628.5 858.4,627.7 855.4,626.9 852.5,626.1 849.5,625.4 846.5,624.7 843.5,624.1 840.5,623.5 837.5,623.0 834.5,622.5 831.4,622.1 828.4,621.7 825.3,621.4 822.3,621.1 819.3,620.9 816.2,620.7 813.2,620.5 810.1,620.5 807.1,620.4 804.0,620.4 801.0,620.5 798.0,620.6 794.9,620.8 791.9,621.0 788.9,621.3 785.9,621.6 783.0,622.0 780.0,622.5 777.0,622.9 774.1,623.5 771.2,624.1 768.3,624.8 765.4,625.5 762.6,626.3 759.7,627.1 756.9,628.0 754.1,628.9 751.3,629.9 748.6,631.0 745.9,632.1 743.1,633.2 740.4,634.4 737.8,635.6 735.1,636.9 732.5,638.2 729.8,639.6 727.2,641.0 724.6,642.5 722.0,643.9 719.5,645.5 716.9,647.0 714.4,648.6 711.9,650.2 709.4,651.9 706.9,653.6 704.4,655.3 702.0,657.0 699.5,658.8 697.1,660.6 694.7,662.4 692.3,664.2 689.9,666.0 687.5,667.9 685.1,669.8 682.8,671.7 680.4,673.6 678.1,675.6 675.7,677.5 673.4,679.5 671.1,681.4 668.8,683.4 666.5,685.4 664.2,687.4 661.9,689.4 659.6,691.4 657.4,693.4 655.1,695.4 652.9,697.4 650.7,699.4 648.5,701.5 646.3,703.5 644.1,705.6 641.9,707.7 639.7,709.8 637.6,711.9 635.5,714.0 633.4,716.1 631.3,718.3 629.2,720.5 627.2,722.6 625.2,724.8 623.2,727.0 621.2,729.3 619.3,731.5 617.3,733.8 615.4,736.1 613.5,738.4 611.7,740.8 609.8,743.1 608.0,745.5 606.2,747.9 604.5,750.3 602.7,752.7 600.9,755.1 599.2,757.6 597.5,760.0 595.8,762.5 594.1,765.0 592.4,767.5 590.7,769.9 589.1,772.4 587.4,775.0 585.8,777.5 584.1,780.0 582.5,782.5 580.9,785.0 579.2,787.6 577.6,790.1 576.0,792.6 574.3,795.2 572.7,797.7 571.1,800.2 569.4,802.8 567.8,805.3 566.1,807.8 564.5,810.3 562.8,812.8 561.2,815.3 559.5,817.8 557.8,820.3 556.1,822.8 554.4,825.3 552.8,827.8 551.1,830.3 549.4,832.8 547.6,835.2 545.9,837.7 544.2,840.2 542.5,842.6 540.7,845.1 539.0,847.5 537.2,850.0 535.5,852.4 533.7,854.8 531.9,857.2 530.1,859.6 528.3,862.0 526.5,864.4 524.7,866.8 522.8,869.2 521.0,871.6 519.2,873.9 517.3,876.3 515.4,878.6 513.5,880.9 511.6,883.3 509.7,885.6 507.8,887.9 505.9,890.2 503.9,892.5 502.0,894.7 500.0,897.0 498.0,899.3 496.1,901.5 494.0,903.7 492.0,906.0 490.0,908.2 487.9,910.4 485.9,912.6 483.8,914.7 481.7,916.9 479.6,919.1 477.5,921.2 475.4,923.4 473.3,925.5 471.1,927.6 469.0,929.7 466.9,931.9 464.7,934.0 462.6,936.1 460.4,938.2 458.3,940.4 456.2,942.5 454.0,944.6 451.9,946.8 449.8,948.9 447.7,951.1 445.6,953.2 443.6,955.4 441.5,957.6 439.5,959.8 437.5,962.0 435.5,964.2 433.5,966.5 431.5,968.8 429.6,971.1 427.7,973.4 425.8,975.7 424.0,978.0 422.2,980.4 420.4,982.8 418.7,985.2 416.9,987.7 415.3,990.2 413.6,992.7 412.0,995.3 410.5,997.8 409.0,1000.5 407.5,1003.1Z"/>
<path stroke="#00A651" d="M409.1,1027.3 409.5,1024.3 409.9,1021.3 410.3,1018.3 410.7,1015.3 411.1,1012.3 411.5,1009.3 411.9,1006.3 412.4,1003.3 412.8,1000.3 413.2,997.4 413.7,994.4 414.1,991.4 414.6,988.4 415.0,985.4 415.5,982.5 416.0,979.5 416.4,976.5 416.9,973.5 417.4,970.6 417.9,967.6 418.4,964.6 418.9,961.7 419.4,958.7 419.9,955.8 420.4,952.8 420.9,949.8 421.4,946.9 421.9,943.9 422.5,941.0 423.0,938.0 423.5,935.1 424.1,932.1 424.6,929.2 425.2,926.2 425.7,923.3 426.3,920.4 426.8,917.4 427.4,914.5 428.0,911.5 428.5,908.6 429.1,905.7 429.7,902.7 430.3,899.8 430.9,896.9 431.5,893.9 432.1,891.0 432.7,888.1 433.3,885.2 433.9,882.2 434.5,879.3 435.1,876.4 435.7,873.5 436.3,870.6 437.0,867.6 437.6,864.7 438.2,861.8 438.9,858.9 439.5,856.0 440.1,853.1 440.8,850.1 441.4,847.2 442.1,844.3 442.7,841.4 443.4,838.5 444.1,835.6 444.7,832.7 445.4,829.8 446.1,826.9 446.7,823.9 447.4,821.0 448.1,818.1 448.8,815.2 449.4,812.3 450.1,809.4 450.8,806.5 451.5,803.6 452.2,800.7 452.9,797.8 453.6,794.9 454.3,792.0 455.0,789.1 455.7,786.2 456.4,783.3 457.1,780.4 457.8,777.5 458.6,774.6 459.3,771.7 460.0,768.8 460.7,765.9 461.4,763.0 462.2,760.1 462.9,757.2 463.6,754.3 464.3,751.4 465.1,748.5 465.8,745.6 466.6,742.7 467.3,739.8 468.0,736.9 468.8,734.0 469.5,731.1 470.3,728.2 471.0,725.3 471.8,722.5 472.5,719.6 473.3,716.7 474.0,713.8 474.8,710.9 475.5,708.0 476.3,705.1 477.0,702.2 477.8,699.3 478.5,696.4 479.3,693.5 480.1,690.6 480.8,687.7 481.6,684.8 482.4,681.9 483.1,679.0 483.9,676.1 484.7,673.1 485.4,670.2 486.2,667.3 487.0,664.4 487.7,661.5 488.5,658.6 489.3,655.7 490.0,652.8 490.8,649.9 491.6,647.0 492.4,644.1 493.1,641.2 493.9,638.3 494.7,635.3 495.5,632.4 496.2,629.5 497.0,626.6 497.8,623.7 498.6,620.8 499.3,617.9 500.1,614.9 500.9,612.0 501.7,609.1 502.5,606.2 503.3,603.3 504.1,600.4 504.8,597.4 505.6,594.5 506.4,591.6 507.2,588.7 508.0,585.8 508.8,582.9 509.6,580.0 510.5,577.1 511.3,574.1 512.1,571.2 512.9,568.3 513.7,565.4 514.6,562.5 515.4,559.6 516.2,556.7 517.1,553.8 517.9,550.9 518.8,548.0 519.6,545.1 520.5,542.2 521.3,539.3 522.2,536.4 523.1,533.5 523.9,530.6 524.8,527.8 525.7,524.9 526.6,522.0 527.5,519.1 528.4,516.2 529.3,513.4 530.3,510.5 531.2,507.6 532.1,504.8 533.1,501.9 534.0,499.0 535.0,496.2 535.9,493.3 536.9,490.5 537.9,487.6 538.9,484.8 539.9,482.0 540.9,479.1 541.9,476.3 542.9,473.5 543.9,470.6 544.9,467.8 546.0,465.0 547.0,462.2 548.1,459.4 549.2,456.6 550.2,453.8 551.3,451.0 552.4,448.2 553.5,445.4 554.7,442.7 555.8,439.9 556.9,437.1 558.1,434.3 559.2,431.6 560.4,428.8 561.6,426.1 562.8,423.3 564.0,420.6 565.2,417.9 566.4,415.1 567.7,412.4 568.9,409.7 570.2,407.0 571.4,404.3 572.7,401.6 574.0,398.9 575.3,396.2 576.6,393.5 578.0,390.9 579.3,388.2 580.7,385.5 582.1,382.9 583.4,380.2 584.8,377.6 586.3,375.0 587.7,372.3 589.1,369.7 590.6,367.1 592.0,364.5 593.5,361.9 595.0,359.3 596.5,356.7 598.1,354.2 599.6,351.6 601.2,349.0 602.7,346.5 604.3,344.0 605.9,341.4 607.5,338.9 609.2,336.4 610.8,333.9 612.5,331.4 614.2,328.9 615.9,326.5 617.6,324.0 619.3,321.6 621.1,319.2 622.9,316.8 624.7,314.4 626.5,312.0 628.3,309.6 630.2,307.2 632.0,304.9 633.9,302.6 635.8,300.3 637.8,298.0 639.7,295.7 641.7,293.4 643.7,291.2 645.7,289.0 647.7,286.8 649.8,284.6 651.9,282.4 654.0,280.2 656.1,278.1 658.2,276.0 660.4,273.9 662.6,271.8 664.8,269.8 667.0,267.7 669.3,265.7 671.6,263.7 673.9,261.8 676.2,259.8 678.6,257.9 680.9,256.0 683.3,254.1 685.8,252.3 688.2,250.4 690.7,248.6 693.2,246.9 695.7,245.2 698.2,243.5 700.8,241.8 703.4,240.2 706.0,238.6 708.6,237.0 711.3,235.5 713.9,234.1 716.6,232.7 719.3,231.3 722.1,230.0 724.8,228.9 727.6,228.0 730.4,227.4 733.2,227.0 736.0,227.0 738.7,227.2 741.5,227.8 744.2,228.6 746.7,229.7 749.2,231.2 751.6,232.8 753.9,234.7 756.0,236.7 758.0,238.9 759.8,241.1 761.5,243.5 763.2,246.0 764.7,248.6 766.1,251.3 767.5,254.1 768.7,256.9 769.9,259.8 771.0,262.7 772.1,265.7 773.1,268.7 774.1,271.7 775.1,274.7 776.0,277.6 776.9,280.6 777.8,283.6 778.7,286.5 779.6,289.4 780.4,292.3 781.3,295.2 782.1,298.1 782.9,301.0 783.7,303.9 784.5,306.7 785.2,309.6 786.0,312.4 786.7,315.3 787.4,318.1 788.2,321.0 788.9,323.8 789.5,326.7 790.2,329.5 790.9,332.4 791.5,335.2 792.2,338.1 792.8,341.0 793.4,343.9 794.0,346.8 794.6,349.7 795.2,352.6 795.7,355.6 796.3,358.5 796.9,361.5 797.4,364.4 798.0,367.4 798.5,370.4 799.0,373.4 799.6,376.4 800.1,379.4 800.7,382.4 801.2,385.4 801.8,388.4 802.4,391.4 802.9,394.3 803.5,397.3 804.1,400.3 804.7,403.3 805.4,406.2 806.0,409.2 806.7,412.1 807.4,415.0 808.1,417.9 808.8,420.8 809.6,423.7 810.4,426.5 811.2,429.4 812.0,432.2 812.8,435.1 813.7,437.9 814.5,440.7 815.4,443.6 816.3,446.4 817.1,449.2 818.0,452.1 818.9,455.0 819.8,457.8 820.7,460.8 821.6,463.7 822.4,466.6 823.3,469.6 824.1,472.6 825.0,475.6 825.9,478.6 826.9,481.5 828.0,484.4 829.1,487.2 830.5,490.0 831.9,492.6 833.5,495.1 835.2,497.5 837.1,499.9 839.0,502.1 841.1,504.1 843.2,506.1 845.5,508.0 847.8,509.7 850.3,511.4 852.8,512.9 855.3,514.3 858.0,515.5 860.7,516.7 863.5,517.7 866.3,518.5 869.1,519.3 872.0,519.9 874.9,520.4 877.8,520.7 880.8,520.9 883.7,521.0 886.7,521.0 889.7,520.8 892.7,520.6 895.7,520.3 898.8,519.9 901.8,519.4 904.8,518.9 907.9,518.4 910.9,517.8 914.0,517.2 917.0,516.6 920.0,516.0 923.1,515.5 926.1,514.9 929.2,514.4 932.2,513.9 935.2,513.4 938.2,513.0 941.2,512.6 944.2,512.3 947.2,511.9 950.2,511.6 953.2,511.4 956.2,511.2 959.2,510.9 962.2,510.8 965.2,510.6 968.1,510.5 971.1,510.4 974.1,510.3 977.1,510.3 980.0,510.3 983.0,510.3 986.0,510.3 988.9,510.3 991.9,510.4 994.9,510.5 997.8,510.6 1000.8,510.7 1003.7,510.9 1006.7,511.0 1009.7,511.2 1012.6,511.4 1015.6,511.6 1018.6,511.9 1021.6,512.1 1024.5,512.4 1027.5,512.7 1030.5,513.0 1033.5,513.3 1036.5,513.6 1039.5,513.9 1042.4,514.2 1045.4,514.6 1048.4,514.9 1051.4,515.2 1054.4,515.6 1057.4,515.9 1060.4,516.3 1063.5,516.6 1066.5,516.9 1069.5,517.2 1072.5,517.5 1075.5,517.8 1078.5,518.1 1081.5,518.3 1084.5,518.6 1087.5,518.8 1090.5,519.0 1093.5,519.2 1096.5,519.3 1099.5,519.4 1102.5,519.5 1105.5,519.5 1108.5,519.6 1111.5,519.5 1114.5,519.5 1117.5,519.4 1120.5,519.2 1123.5,519.1 1126.5,518.8 1129.4,518.6 1132.4,518.2 1135.4,517.9 1138.3,517.5 1141.3,517.0 1144.3,516.5 1147.2,516.0 1150.2,515.4 1153.1,514.9 1156.1,514.3 1159.0,513.7 1162.0,513.0 1164.9,512.4 1167.9,511.7 1170.8,511.0 1173.7,510.4 1176.7,509.7 1179.6,509.0 1182.5,508.4 1185.4,507.7 1188.4,507.0 1191.3,506.4 1194.2,505.7 1197.1,505.1 1200.0,504.4 1203.0,503.7 1205.9,503.0 1208.8,502.4 1211.7,501.7 1214.6,501.0 1217.5,500.3 1220.4,499.5 1223.3,498.8 1226.2,498.1 1229.1,497.3 1232.0,496.5 1234.9,495.8 1237.8,494.9 1240.7,494.1 1243.6,493.3 1246.5,492.4 1249.4,491.6 1252.3,490.7 1255.2,489.8 1258.0,488.9 1260.9,487.9 1263.8,487.0 1266.6,486.0 1269.5,485.0 1272.3,484.0 1275.2,482.9 1278.0,481.9 1280.8,480.8 1283.6,479.7 1286.4,478.6 1289.2,477.4 1292.0,476.2 1294.7,475.1 1297.5,473.8 1300.2,472.6 1303.0,471.3 1305.7,470.1 1308.4,468.7 1311.0,467.4 1313.7,466.1 1316.4,464.7 1319.0,463.3 1321.6,461.8 1324.2,460.4 1326.8,458.9 1329.4,457.4 1331.9,455.8 1334.5,454.2 1337.0,452.6 1339.5,451.0 1341.9,449.4 1344.4,447.7 1346.8,446.0 1349.2,444.2 1351.6,442.4 1353.9,440.6 1356.3,438.8 1358.6,436.9 1360.9,435.0 1363.1,433.1 1365.4,431.1 1367.6,429.2 1369.8,427.1 1372.0,425.1 1374.2,423.1 1376.3,421.0 1378.5,418.9 1380.6,416.8 1382.7,414.6 1384.8,412.5 1386.8,410.3 1388.9,408.1 1391.0,405.9 1393.0,403.7 1395.0,401.4 1397.1,399.2 1399.1,396.9 1401.1,394.7 1403.1,392.4 1405.1,390.1 1407.1,387.9 1409.1,385.6 1411.1,383.3 1413.1,381.0 1415.0,378.7 1417.0,376.4 1419.0,374.1 1421.0,371.8 1423.0,369.5 1425.0,367.3 1427.0,365.0 1429.0,362.7 1431.0,360.4 1433.0,358.2 1435.0,355.9 1437.1,353.7 1439.1,351.5 1441.2,349.3 1443.2,347.1 1445.3,344.9 1447.4,342.7 1449.4,340.5 1451.5,338.3 1453.6,336.2 1455.7,334.0 1457.8,331.9 1459.9,329.8 1462.1,327.6 1464.2,325.5 1466.3,323.4 1468.5,321.3 1470.6,319.2 1472.8,317.2 1474.9,315.1 1477.1,313.0 1479.3,310.9 1481.4,308.9 1483.6,306.8 1485.8,304.8 1488.0,302.8 1490.2,300.7 1492.4,298.7 1494.6,296.7 1496.8,294.7 1499.0,292.7 1501.3,290.7 1503.5,288.7 1505.7,286.7 1508.0,284.7 1510.2,282.7 1512.4,280.7 1514.7,278.7 1516.9,276.8 1519.2,274.8 1521.5,272.8 1523.7,270.9 1526.0,268.9 1528.2,266.9 1530.5,265.0 1532.8,263.0 1535.1,261.1 1537.3,259.1 1539.6,257.2 1541.9,255.3 1544.2,253.3 1546.5,251.4 1548.8,249.4 1551.1,247.5 1553.4,245.6 1555.7,243.7 1558.0,241.7 1560.3,239.8 1562.6,237.9 1564.9,236.0 1567.2,234.1 1569.5,232.1 1571.8,230.2 1574.2,228.3 1576.5,226.4 1578.8,224.5 1581.1,222.6 1583.5,220.7 1585.8,218.9 1588.1,217.0 1590.5,215.1 1592.8,213.2 1595.2,211.3 1597.5,209.4 1599.9,207.6 1602.2,205.7 1604.6,203.8 1606.9,202.0 1609.3,200.1 1611.7,198.3 1614.0,196.4 1616.4,194.6 1618.8,192.7 1621.1,190.9 1623.5,189.0 1625.9,187.2 1628.3,185.4 1630.7,183.6 1633.1,181.7 1635.5,179.9 1637.9,178.1 1640.3,176.3 1642.7,174.5 1645.1,172.7 1647.5,170.9 1649.9,169.1 1652.3,167.3 1654.7,165.5 1657.1,163.7 1659.5,161.9 1662.0,160.2 1664.4,158.4 1666.8,156.6 1669.3,154.9 1671.7,153.1 1674.1,151.4 1676.6,149.6 1679.0,147.9 1681.5,146.1 1683.9,144.4 1686.4,142.7 1688.8,140.9 1691.3,139.2 1693.7,137.5 1696.2,135.8 1698.7,134.1 1701.1,132.4 1703.6,130.7 1706.1,129.0 1708.6,127.3 1711.0,125.6 1713.5,123.9 1716.0,122.2 1718.5,120.6 1721.0,118.9 1723.5,117.2 1726.0,115.6 1728.5,113.9 1731.0,112.3 1730.5,115.3 1730.0,118.3 1729.5,121.3 1729.0,124.2 1728.5,127.2 1728.0,130.2 1727.5,133.2 1727.0,136.2 1726.5,139.1 1726.0,142.1 1725.5,145.1 1724.9,148.0 1724.4,151.0 1723.9,154.0 1723.3,156.9 1722.8,159.9 1722.3,162.9 1721.7,165.8 1721.2,168.8 1720.6,171.7 1720.1,174.7 1719.5,177.6 1718.9,180.6 1718.4,183.5 1717.8,186.5 1717.2,189.4 1716.6,192.4 1716.1,195.3 1715.5,198.2 1714.9,201.2 1714.3,204.1 1713.7,207.0 1713.1,210.0 1712.5,212.9 1711.9,215.8 1711.2,218.8 1710.6,221.7 1710.0,224.6 1709.4,227.5 1708.7,230.5 1708.1,233.4 1707.4,236.3 1706.8,239.2 1706.1,242.1 1705.5,245.0 1704.8,248.0 1704.2,250.9 1703.5,253.8 1702.8,256.7 1702.1,259.6 1701.4,262.5 1700.7,265.4 1700.0,268.3 1699.3,271.2 1698.6,274.1 1697.9,277.0 1697.2,279.9 1696.5,282.8 1695.7,285.7 1695.0,288.6 1694.3,291.5 1693.5,294.4 1692.8,297.3 1692.0,300.2 1691.2,303.1 1690.5,306.0 1689.7,308.9 1688.9,311.7 1688.1,314.6 1687.3,317.5 1686.5,320.4 1685.7,323.3 1684.9,326.2 1684.1,329.1 1683.3,331.9 1682.4,334.8 1681.6,337.7 1680.7,340.6 1679.9,343.5 1679.0,346.3 1678.2,349.2 1677.3,352.1 1676.4,355.0 1675.6,357.8 1674.7,360.7 1673.8,363.6 1672.9,366.5 1672.0,369.3 1671.0,372.2 1670.1,375.1 1669.2,377.9 1668.3,380.8 1667.3,383.7 1666.4,386.6 1665.4,389.4 1664.4,392.3 1663.5,395.2 1662.5,398.0 1661.5,400.9 1660.5,403.8 1659.5,406.6 1658.5,409.5 1657.5,412.3 1656.4,415.2 1655.4,418.0 1654.3,420.9 1653.3,423.7 1652.2,426.6 1651.1,429.4 1650.0,432.2 1648.9,435.0 1647.8,437.9 1646.7,440.7 1645.5,443.5 1644.3,446.3 1643.2,449.0 1642.0,451.8 1640.8,454.6 1639.5,457.3 1638.3,460.1 1637.0,462.8 1635.8,465.6 1634.5,468.3 1633.2,471.0 1631.8,473.7 1630.5,476.4 1629.1,479.0 1627.8,481.7 1626.4,484.3 1624.9,487.0 1623.5,489.6 1622.1,492.2 1620.6,494.8 1619.1,497.4 1617.5,499.9 1616.0,502.5 1614.4,505.0 1612.8,507.5 1611.2,510.0 1609.6,512.5 1607.9,514.9 1606.2,517.4 1604.5,519.8 1602.8,522.2 1601.0,524.6 1599.3,527.0 1597.5,529.3 1595.6,531.6 1593.8,533.9 1591.9,536.2 1590.0,538.5 1588.1,540.8 1586.1,543.0 1584.1,545.2 1582.2,547.4 1580.2,549.6 1578.1,551.8 1576.1,554.0 1574.0,556.1 1571.9,558.3 1569.8,560.4 1567.7,562.5 1565.6,564.6 1563.5,566.7 1561.3,568.7 1559.1,570.8 1556.9,572.8 1554.7,574.9 1552.5,576.9 1550.3,578.9 1548.1,580.9 1545.8,582.9 1543.5,584.9 1541.3,586.9 1539.0,588.8 1536.7,590.8 1534.4,592.8 1532.1,594.7 1529.8,596.6 1527.5,598.6 1525.2,600.5 1522.8,602.4 1520.5,604.3 1518.1,606.2 1515.8,608.1 1513.5,610.0 1511.1,611.9 1508.8,613.8 1506.4,615.7 1504.0,617.6 1501.7,619.5 1499.3,621.3 1497.0,623.2 1494.6,625.1 1492.2,626.9 1489.9,628.8 1487.5,630.7 1485.2,632.5 1482.8,634.4 1480.4,636.3 1478.1,638.1 1475.7,640.0 1473.3,641.8 1471.0,643.7 1468.6,645.5 1466.2,647.4 1463.9,649.2 1461.5,651.1 1459.2,652.9 1456.8,654.8 1454.4,656.6 1452.1,658.5 1449.7,660.3 1447.3,662.2 1445.0,664.0 1442.6,665.9 1440.2,667.7 1437.9,669.5 1435.5,671.4 1433.2,673.2 1430.8,675.1 1428.4,676.9 1426.1,678.8 1423.7,680.6 1421.4,682.5 1419.0,684.3 1416.7,686.2 1414.3,688.0 1412.0,689.9 1409.6,691.7 1407.3,693.6 1404.9,695.5 1402.6,697.3 1400.2,699.2 1397.9,701.1 1395.6,702.9 1393.2,704.8 1390.9,706.7 1388.6,708.5 1386.2,710.4 1383.9,712.3 1381.6,714.2 1379.2,716.1 1376.9,718.0 1374.6,719.9 1372.3,721.7 1370.0,723.6 1367.7,725.6 1365.3,727.5 1363.0,729.4 1360.7,731.3 1358.4,733.2 1356.1,735.1 1353.8,737.0 1351.5,739.0 1349.2,740.9 1346.9,742.9 1344.7,744.8 1342.4,746.7 1340.1,748.7 1337.8,750.7 1335.5,752.6 1333.3,754.6 1331.0,756.6 1328.7,758.5 1326.5,760.5 1324.2,762.5 1322.0,764.5 1319.7,766.5 1317.5,768.5 1315.2,770.6 1313.0,772.6 1310.8,774.6 1308.5,776.6 1306.3,778.7 1304.1,780.7 1301.9,782.7 1299.6,784.8 1297.4,786.8 1295.2,788.9 1293.0,790.9 1290.7,792.9 1288.5,795.0 1286.3,797.0 1284.0,799.1 1281.8,801.1 1279.6,803.1 1277.3,805.1 1275.1,807.1 1272.8,809.1 1270.6,811.1 1268.3,813.1 1266.1,815.1 1263.8,817.1 1261.5,819.0 1259.2,821.0 1256.9,822.9 1254.6,824.9 1252.3,826.8 1250.0,828.7 1247.7,830.6 1245.3,832.4 1243.0,834.3 1240.6,836.1 1238.3,837.9 1235.9,839.7 1233.5,841.5 1231.1,843.3 1228.7,845.0 1226.2,846.8 1223.8,848.5 1221.3,850.2 1218.9,851.8 1216.4,853.5 1213.9,855.1 1211.4,856.7 1208.9,858.3 1206.3,859.9 1203.8,861.5 1201.3,863.1 1198.7,864.6 1196.2,866.1 1193.6,867.7 1191.0,869.2 1188.4,870.7 1185.9,872.2 1183.3,873.7 1180.7,875.1 1178.1,876.6 1175.4,878.0 1172.8,879.5 1170.2,880.9 1167.5,882.3 1164.9,883.7 1162.2,885.1 1159.5,886.5 1156.8,887.9 1154.1,889.2 1151.3,890.5 1148.5,891.8 1145.8,893.1 1142.9,894.3 1140.1,895.5 1137.3,896.7 1134.4,897.8 1131.5,898.9 1128.6,900.0 1125.7,901.0 1122.8,902.0 1119.9,903.0 1117.0,903.9 1114.0,904.7 1111.1,905.5 1108.1,906.2 1105.2,906.9 1102.2,907.5 1099.3,908.0 1096.3,908.5 1093.4,908.9 1090.4,909.3 1087.5,909.5 1084.5,909.7 1081.6,909.8 1078.7,909.8 1075.8,909.8 1072.9,909.6 1070.0,909.4 1067.1,909.1 1064.3,908.7 1061.4,908.1 1058.6,907.5 1055.8,906.8 1053.0,906.0 1050.2,905.0 1047.5,904.0 1044.8,902.9 1042.1,901.7 1039.4,900.3 1036.8,898.9 1034.2,897.5 1031.6,895.9 1029.0,894.3 1026.5,892.6 1024.0,890.8 1021.6,889.0 1019.2,887.1 1016.8,885.1 1014.5,883.2 1012.2,881.1 1009.9,879.0 1007.7,876.9 1005.5,874.8 1003.4,872.6 1001.3,870.4 999.3,868.2 997.3,865.9 995.3,863.7 993.4,861.4 991.5,859.0 989.7,856.7 987.8,854.3 986.1,851.9 984.3,849.5 982.6,847.1 980.9,844.6 979.3,842.2 977.6,839.7 976.0,837.2 974.4,834.6 972.9,832.1 971.3,829.6 969.8,827.0 968.3,824.4 966.8,821.8 965.3,819.2 963.8,816.6 962.4,814.0 960.9,811.3 959.5,808.7 958.1,806.0 956.7,803.3 955.2,800.7 953.8,798.0 952.4,795.3 951.0,792.6 949.6,789.9 948.2,787.2 946.8,784.5 945.4,781.8 944.0,779.1 942.6,776.4 941.2,773.7 939.8,771.0 938.4,768.3 936.9,765.6 935.5,762.9 934.1,760.2 932.6,757.5 931.1,754.8 929.7,752.2 928.2,749.5 926.7,746.9 925.2,744.2 923.7,741.6 922.1,739.0 920.6,736.4 919.0,733.8 917.4,731.3 915.8,728.7 914.2,726.2 912.6,723.7 910.9,721.2 909.2,718.7 907.5,716.3 905.8,713.9 904.0,711.5 902.2,709.1 900.4,706.7 898.6,704.4 896.7,702.1 894.8,699.8 892.9,697.6 891.0,695.3 889.0,693.1 887.0,691.0 884.9,688.9 882.8,686.8 880.7,684.7 878.6,682.7 876.4,680.7 874.2,678.7 871.9,676.8 869.6,674.9 867.3,673.1 864.9,671.3 862.5,669.5 860.0,667.8 857.5,666.2 855.0,664.6 852.4,663.0 849.8,661.5 847.2,660.0 844.5,658.6 841.8,657.2 839.1,656.0 836.3,654.7 833.5,653.6 830.7,652.4 827.9,651.4 825.0,650.4 822.1,649.5 819.2,648.7 816.3,647.9 813.3,647.3 810.3,646.6 807.3,646.1 804.3,645.6 801.3,645.2 798.3,644.9 795.3,644.6 792.3,644.4 789.2,644.3 786.2,644.2 783.2,644.2 780.2,644.3 777.2,644.5 774.2,644.7 771.3,644.9 768.3,645.3 765.4,645.7 762.4,646.1 759.5,646.6 756.6,647.2 753.7,647.8 750.8,648.5 747.9,649.3 745.0,650.1 742.2,650.9 739.3,651.8 736.5,652.8 733.7,653.8 730.9,654.8 728.1,655.9 725.3,657.0 722.6,658.2 719.8,659.5 717.1,660.7 714.4,662.1 711.7,663.4 709.1,664.8 706.4,666.2 703.8,667.7 701.2,669.2 698.6,670.8 696.0,672.3 693.4,674.0 690.9,675.6 688.4,677.3 685.9,679.0 683.4,680.7 681.0,682.5 678.6,684.3 676.2,686.1 673.8,687.9 671.4,689.8 669.1,691.7 666.7,693.6 664.4,695.5 662.1,697.5 659.9,699.4 657.6,701.4 655.4,703.4 653.2,705.5 651.0,707.5 648.8,709.6 646.6,711.6 644.4,713.7 642.3,715.8 640.2,717.9 638.0,720.1 635.9,722.2 633.8,724.4 631.7,726.5 629.7,728.7 627.6,730.9 625.6,733.1 623.5,735.3 621.5,737.5 619.5,739.7 617.5,741.9 615.5,744.1 613.5,746.4 611.6,748.7 609.6,750.9 607.7,753.2 605.8,755.5 603.9,757.8 602.0,760.1 600.1,762.4 598.2,764.8 596.4,767.1 594.5,769.5 592.7,771.9 590.9,774.2 589.1,776.6 587.3,779.0 585.5,781.4 583.8,783.9 582.0,786.3 580.3,788.8 578.6,791.2 576.9,793.7 575.2,796.2 573.5,798.7 571.9,801.2 570.2,803.7 568.5,806.2 566.9,808.7 565.3,811.2 563.6,813.7 562.0,816.3 560.4,818.8 558.8,821.3 557.2,823.9 555.6,826.4 554.0,829.0 552.4,831.5 550.8,834.1 549.2,836.7 547.6,839.2 546.0,841.8 544.4,844.3 542.8,846.9 541.3,849.4 539.7,852.0 538.1,854.6 536.5,857.1 534.9,859.6 533.3,862.2 531.7,864.7 530.1,867.3 528.5,869.8 526.9,872.4 525.3,874.9 523.6,877.4 522.0,880.0 520.4,882.5 518.8,885.0 517.2,887.5 515.5,890.1 513.9,892.6 512.3,895.1 510.6,897.6 509.0,900.1 507.4,902.6 505.7,905.2 504.1,907.7 502.5,910.2 500.8,912.7 499.2,915.2 497.5,917.7 495.9,920.2 494.2,922.7 492.5,925.2 490.9,927.7 489.2,930.2 487.5,932.7 485.8,935.2 484.1,937.7 482.4,940.1 480.7,942.6 479.0,945.1 477.3,947.5 475.6,950.0 473.8,952.4 472.1,954.8 470.3,957.3 468.5,959.7 466.7,962.1 464.9,964.5 463.1,966.9 461.3,969.2 459.5,971.6 457.6,974.0 455.7,976.3 453.8,978.6 451.9,980.9 450.0,983.2 448.1,985.5 446.1,987.8 444.2,990.1 442.2,992.3 440.2,994.6 438.1,996.8 436.1,999.0 434.1,1001.2 432.0,1003.4 430.0,1005.6 427.9,1007.8 425.8,1010.0 423.7,1012.1 421.6,1014.3 419.6,1016.5 417.5,1018.6 415.4,1020.8 413.3,1023.0 411.2,1025.1 409.1,1027.3Z"/>
<path stroke="#231F20" d="M408.5,889.0 409.0,886.0 409.5,883.1 409.9,880.1 410.4,877.2 410.9,874.2 411.4,871.3 411.9,868.3 412.4,865.3 412.9,862.4 413.4,859.4 414.0,856.5 414.5,853.5 415.0,850.6 415.5,847.6 416.0,844.7 416.6,841.7 417.1,838.7 417.6,835.8 418.2,832.8 418.7,829.9 419.3,826.9 419.8,824.0 420.4,821.0 420.9,818.1 421.5,815.1 422.0,812.2 422.6,809.2 423.2,806.3 423.7,803.3 424.3,800.4 424.9,797.4 425.5,794.5 426.1,791.5 426.7,788.6 427.3,785.6 427.9,782.7 428.5,779.7 429.1,776.8 429.7,773.8 430.3,770.9 430.9,767.9 431.5,765.0 432.2,762.1 432.8,759.1 433.4,756.2 434.1,753.2 434.7,750.3 435.4,747.4 436.0,744.4 436.7,741.5 437.3,738.6 438.0,735.6 438.7,732.7 439.3,729.8 440.0,726.8 440.7,723.9 441.4,721.0 442.1,718.0 442.8,715.1 443.5,712.2 444.2,709.3 444.9,706.3 445.6,703.4 446.3,700.5 447.0,697.6 447.8,694.7 448.5,691.7 449.2,688.8 450.0,685.9 450.7,683.0 451.5,680.1 452.2,677.2 453.0,674.3 453.7,671.4 454.5,668.5 455.3,665.6 456.0,662.7 456.8,659.8 457.6,656.9 458.4,654.0 459.2,651.1 460.0,648.2 460.8,645.3 461.6,642.4 462.4,639.5 463.3,636.6 464.1,633.7 464.9,630.8 465.7,628.0 466.6,625.1 467.4,622.2 468.3,619.3 469.1,616.4 470.0,613.6 470.9,610.7 471.7,607.8 472.6,605.0 473.5,602.1 474.4,599.2 475.3,596.4 476.2,593.5 477.1,590.7 478.0,587.8 478.9,584.9 479.8,582.1 480.8,579.2 481.7,576.4 482.6,573.5 483.6,570.7 484.5,567.8 485.4,565.0 486.4,562.2 487.4,559.3 488.3,556.5 489.3,553.6 490.3,550.8 491.2,548.0 492.2,545.1 493.2,542.3 494.2,539.5 495.2,536.6 496.2,533.8 497.2,531.0 498.2,528.2 499.2,525.3 500.3,522.5 501.3,519.7 502.3,516.9 503.4,514.1 504.4,511.2 505.5,508.4 506.5,505.6 507.6,502.8 508.6,500.0 509.7,497.2 510.8,494.4 511.8,491.5 512.9,488.7 514.0,485.9 515.1,483.1 516.2,480.3 517.3,477.5 518.4,474.7 519.5,471.9 520.6,469.1 521.7,466.3 522.9,463.5 524.0,460.7 525.1,457.9 526.3,455.1 527.5,452.4 528.7,449.6 529.9,446.8 531.1,444.1 532.3,441.4 533.6,438.6 534.9,435.9 536.2,433.2 537.5,430.5 538.8,427.8 540.2,425.1 541.6,422.5 543.0,419.9 544.5,417.2 546.0,414.6 547.5,412.0 549.0,409.5 550.6,406.9 552.2,404.4 553.8,401.9 555.5,399.4 557.2,396.9 559.0,394.4 560.8,392.0 562.6,389.6 564.5,387.3 566.4,385.0 568.4,382.8 570.5,380.6 572.6,378.5 574.7,376.4 577.0,374.5 579.3,372.6 581.7,370.8 584.1,369.1 586.7,367.5 589.3,366.1 592.0,364.7 594.7,363.5 597.6,362.3 600.5,361.3 603.4,360.3 606.3,359.4 609.3,358.6 612.3,357.9 615.2,357.3 618.2,356.7 621.2,356.2 624.1,355.8 627.0,355.4 629.9,355.1 632.8,354.7 635.6,354.5 638.5,354.2 641.4,354.0 644.2,353.8 647.1,353.6 650.0,353.4 653.0,353.2 655.9,352.9 658.9,352.7 661.9,352.4 664.9,352.1 668.0,351.8 671.2,351.4 674.3,350.9 677.6,350.4 680.9,349.9 684.1,349.4 687.4,348.9 690.6,348.6 693.8,348.4 696.9,348.3 699.9,348.4 702.7,348.8 705.4,349.5 708.0,350.3 710.5,351.4 712.9,352.7 715.1,354.2 717.2,355.9 719.3,357.8 721.2,359.8 723.1,361.9 724.8,364.2 726.5,366.6 728.1,369.1 729.6,371.8 731.0,374.4 732.4,377.2 733.8,380.0 735.0,382.8 736.3,385.7 737.5,388.6 738.6,391.5 739.7,394.4 740.8,397.2 741.9,400.1 742.9,402.9 743.9,405.8 744.9,408.6 745.8,411.5 746.8,414.3 747.7,417.1 748.6,419.9 749.5,422.8 750.4,425.6 751.3,428.4 752.1,431.2 753.0,434.0 753.9,436.8 754.7,439.6 755.6,442.4 756.5,445.3 757.4,448.1 758.3,450.9 759.2,453.7 760.1,456.5 761.0,459.4 761.9,462.2 762.9,465.0 763.9,467.9 764.9,470.7 765.9,473.6 767.0,476.4 768.1,479.3 769.2,482.2 770.4,485.1 771.6,487.9 772.8,490.8 774.1,493.7 775.4,496.6 776.8,499.5 778.2,502.3 779.7,505.0 781.3,507.7 782.9,510.3 784.6,512.9 786.4,515.3 788.2,517.6 790.1,519.8 792.2,521.9 794.3,523.8 796.5,525.6 798.8,527.2 801.2,528.6 803.7,529.9 806.3,531.0 808.9,532.0 811.7,532.9 814.5,533.6 817.3,534.2 820.3,534.7 823.2,535.2 826.2,535.5 829.2,535.8 832.3,536.0 835.4,536.1 838.5,536.2 841.6,536.3 844.7,536.3 847.8,536.3 850.9,536.4 853.9,536.3 857.0,536.3 860.1,536.3 863.1,536.2 866.2,536.2 869.2,536.1 872.3,536.0 875.3,535.9 878.4,535.8 881.4,535.7 884.4,535.6 887.4,535.5 890.4,535.4 893.5,535.2 896.5,535.1 899.5,534.9 902.5,534.8 905.5,534.6 908.4,534.4 911.4,534.2 914.4,534.1 917.4,533.9 920.4,533.7 923.4,533.5 926.3,533.4 929.3,533.2 932.3,533.0 935.2,532.8 938.2,532.6 941.2,532.4 944.1,532.3 947.1,532.1 950.1,531.9 953.0,531.8 956.0,531.6 959.0,531.4 961.9,531.3 964.9,531.1 967.9,531.0 970.8,530.9 973.8,530.8 976.8,530.6 979.7,530.5 982.7,530.4 985.7,530.4 988.7,530.3 991.6,530.2 994.6,530.2 997.6,530.1 1000.6,530.1 1003.6,530.1 1006.6,530.1 1009.6,530.1 1012.6,530.1 1015.6,530.2 1018.6,530.2 1021.6,530.3 1024.6,530.3 1027.6,530.4 1030.6,530.5 1033.6,530.5 1036.6,530.6 1039.6,530.7 1042.7,530.8 1045.7,530.9 1048.7,531.0 1051.7,531.1 1054.7,531.2 1057.8,531.3 1060.8,531.4 1063.8,531.5 1066.8,531.6 1069.8,531.6 1072.9,531.7 1075.9,531.8 1078.9,531.9 1081.9,531.9 1084.9,532.0 1088.0,532.0 1091.0,532.1 1094.0,532.1 1097.0,532.1 1100.0,532.1 1103.1,532.1 1106.1,532.1 1109.1,532.1 1112.1,532.0 1115.1,531.9 1118.1,531.9 1121.1,531.8 1124.1,531.7 1127.1,531.5 1130.1,531.4 1133.1,531.2 1136.1,531.0 1139.1,530.8 1142.1,530.6 1145.1,530.3 1148.1,530.0 1151.0,529.7 1154.0,529.4 1157.0,529.0 1160.0,528.7 1162.9,528.3 1165.9,527.8 1168.8,527.4 1171.8,526.9 1174.7,526.4 1177.7,525.8 1180.6,525.3 1183.6,524.7 1186.5,524.2 1189.5,523.6 1192.4,523.0 1195.4,522.4 1198.3,521.8 1201.3,521.1 1204.2,520.5 1207.2,519.9 1210.1,519.3 1213.1,518.7 1216.0,518.1 1219.0,517.5 1221.9,516.9 1224.9,516.3 1227.9,515.7 1230.8,515.2 1233.8,514.6 1236.8,514.1 1239.8,513.6 1242.7,513.1 1245.7,512.6 1248.7,512.1 1251.7,511.6 1254.6,511.0 1257.6,510.5 1260.6,510.0 1263.5,509.4 1266.5,508.9 1269.4,508.3 1272.4,507.7 1275.3,507.0 1278.2,506.3 1281.1,505.6 1284.0,504.9 1286.9,504.1 1289.8,503.3 1292.6,502.5 1295.5,501.5 1298.3,500.6 1301.1,499.6 1303.9,498.5 1306.6,497.4 1309.4,496.3 1312.1,495.1 1314.8,493.9 1317.6,492.7 1320.2,491.4 1322.9,490.0 1325.6,488.6 1328.2,487.2 1330.9,485.8 1333.5,484.3 1336.1,482.8 1338.7,481.3 1341.3,479.7 1343.8,478.1 1346.4,476.5 1348.9,474.9 1351.4,473.2 1354.0,471.5 1356.5,469.8 1359.0,468.1 1361.4,466.3 1363.9,464.6 1366.4,462.8 1368.8,461.0 1371.2,459.2 1373.6,457.3 1376.1,455.5 1378.5,453.7 1380.8,451.8 1383.2,449.9 1385.6,448.1 1388.0,446.2 1390.3,444.3 1392.7,442.4 1395.0,440.6 1397.4,438.7 1399.7,436.8 1402.0,434.9 1404.4,433.1 1406.7,431.2 1409.1,429.3 1411.4,427.5 1413.7,425.6 1416.1,423.8 1418.5,421.9 1420.8,420.1 1423.2,418.3 1425.6,416.5 1428.0,414.7 1430.4,413.0 1432.8,411.2 1435.2,409.5 1437.6,407.8 1440.1,406.1 1442.6,404.5 1445.1,402.8 1447.6,401.2 1450.1,399.6 1452.6,398.0 1455.1,396.4 1457.7,394.9 1460.2,393.4 1462.8,391.8 1465.4,390.3 1468.0,388.8 1470.6,387.4 1473.2,385.9 1475.8,384.4 1478.4,383.0 1481.1,381.6 1483.7,380.1 1486.4,378.7 1489.0,377.3 1491.7,375.9 1494.4,374.5 1497.0,373.2 1499.7,371.8 1502.4,370.4 1505.1,369.0 1507.8,367.7 1510.4,366.3 1513.1,365.0 1515.8,363.6 1518.5,362.3 1521.2,360.9 1523.9,359.6 1526.6,358.2 1529.3,356.9 1532.0,355.5 1534.7,354.1 1537.4,352.8 1540.1,351.4 1542.7,350.1 1545.4,348.7 1548.1,347.3 1550.8,346.0 1553.5,344.6 1556.2,343.2 1558.8,341.8 1561.5,340.5 1564.2,339.1 1566.9,337.7 1569.6,336.4 1572.2,335.0 1574.9,333.7 1577.6,332.3 1580.3,331.0 1583.0,329.6 1585.7,328.3 1588.3,326.9 1591.0,325.6 1593.7,324.3 1596.4,323.0 1599.1,321.6 1601.8,320.3 1604.5,319.0 1607.2,317.7 1609.9,316.5 1612.6,315.2 1615.3,313.9 1618.1,312.7 1620.8,311.4 1623.5,310.2 1626.2,309.0 1629.0,307.8 1631.7,306.6 1634.4,305.4 1637.2,304.2 1639.9,303.1 1642.7,301.9 1645.5,300.8 1648.2,299.7 1651.0,298.6 1653.8,297.5 1656.6,296.4 1659.4,295.3 1662.2,294.3 1665.0,293.3 1667.8,292.3 1670.6,291.3 1673.4,290.3 1676.3,289.4 1679.1,288.4 1682.0,287.5 1684.8,286.6 1687.7,285.8 1690.6,284.9 1693.4,284.1 1696.3,283.3 1699.2,282.5 1702.1,281.8 1705.1,281.0 1708.0,280.3 1710.9,279.6 1713.9,278.9 1716.9,278.3 1719.8,277.7 1722.8,277.1 1725.8,276.5 1728.8,276.0 1728.4,278.8 1727.9,281.6 1727.4,284.4 1727.0,287.3 1726.5,290.1 1726.0,293.0 1725.5,295.9 1725.0,298.7 1724.5,301.6 1723.9,304.5 1723.4,307.4 1722.8,310.3 1722.3,313.3 1721.7,316.2 1721.1,319.1 1720.5,322.0 1719.9,325.0 1719.2,327.9 1718.6,330.9 1718.0,333.8 1717.3,336.8 1716.6,339.8 1715.9,342.7 1715.2,345.7 1714.5,348.7 1713.8,351.6 1713.0,354.6 1712.3,357.6 1711.5,360.5 1710.7,363.5 1709.9,366.4 1709.1,369.4 1708.2,372.4 1707.4,375.3 1706.5,378.3 1705.6,381.2 1704.7,384.2 1703.8,387.1 1702.9,390.1 1701.9,393.0 1701.0,395.9 1700.0,398.8 1699.0,401.7 1697.9,404.6 1696.9,407.5 1695.9,410.4 1694.8,413.3 1693.7,416.2 1692.6,419.0 1691.4,421.9 1690.3,424.7 1689.1,427.5 1687.9,430.3 1686.7,433.1 1685.5,435.9 1684.3,438.7 1683.0,441.5 1681.7,444.2 1680.4,446.9 1679.1,449.7 1677.7,452.4 1676.3,455.1 1674.9,457.7 1673.5,460.4 1672.1,463.0 1670.6,465.6 1669.1,468.2 1667.6,470.8 1666.1,473.4 1664.5,475.9 1663.0,478.4 1661.4,480.9 1659.7,483.4 1658.1,485.9 1656.4,488.3 1654.7,490.7 1653.0,493.1 1651.3,495.5 1649.5,497.8 1647.7,500.1 1645.9,502.4 1644.0,504.7 1642.2,506.9 1640.3,509.1 1638.3,511.3 1636.4,513.5 1634.4,515.6 1632.4,517.7 1630.4,519.8 1628.3,521.9 1626.2,523.9 1624.1,525.9 1622.0,527.8 1619.8,529.7 1617.6,531.6 1615.4,533.5 1613.1,535.3 1610.9,537.1 1608.5,538.9 1606.2,540.6 1603.9,542.4 1601.5,544.0 1599.1,545.7 1596.6,547.3 1594.2,548.9 1591.7,550.5 1589.2,552.1 1586.7,553.6 1584.1,555.1 1581.6,556.6 1579.0,558.1 1576.4,559.5 1573.8,560.9 1571.2,562.3 1568.5,563.7 1565.8,565.1 1563.2,566.4 1560.5,567.8 1557.8,569.1 1555.0,570.4 1552.3,571.7 1549.6,573.0 1546.8,574.2 1544.0,575.5 1541.3,576.7 1538.5,577.9 1535.7,579.1 1532.9,580.4 1530.0,581.6 1527.2,582.7 1524.4,583.9 1521.6,585.1 1518.7,586.3 1515.9,587.4 1513.0,588.6 1510.2,589.8 1507.3,590.9 1504.5,592.1 1501.6,593.2 1498.8,594.4 1495.9,595.5 1493.1,596.7 1490.2,597.8 1487.4,599.0 1484.5,600.1 1481.7,601.3 1478.8,602.4 1476.0,603.6 1473.1,604.8 1470.3,606.0 1467.5,607.1 1464.7,608.3 1461.9,609.5 1459.1,610.7 1456.3,612.0 1453.5,613.2 1450.7,614.4 1448.0,615.7 1445.2,617.0 1442.5,618.2 1439.8,619.5 1437.1,620.8 1434.4,622.2 1431.7,623.5 1429.0,624.8 1426.3,626.2 1423.7,627.6 1421.1,629.0 1418.4,630.4 1415.8,631.8 1413.2,633.2 1410.6,634.7 1408.1,636.1 1405.5,637.6 1402.9,639.1 1400.4,640.6 1397.8,642.1 1395.3,643.6 1392.7,645.1 1390.2,646.6 1387.7,648.1 1385.2,649.7 1382.7,651.2 1380.2,652.8 1377.7,654.4 1375.2,656.0 1372.7,657.5 1370.3,659.1 1367.8,660.7 1365.3,662.3 1362.9,663.9 1360.4,665.6 1357.9,667.2 1355.5,668.8 1353.0,670.4 1350.6,672.1 1348.1,673.7 1345.6,675.4 1343.2,677.0 1340.7,678.7 1338.3,680.3 1335.8,682.0 1333.4,683.6 1330.9,685.3 1328.5,687.0 1326.0,688.6 1323.5,690.3 1321.1,692.0 1318.6,693.6 1316.1,695.3 1313.7,697.0 1311.2,698.6 1308.7,700.3 1306.2,702.0 1303.7,703.6 1301.2,705.3 1298.7,706.9 1296.2,708.6 1293.7,710.3 1291.2,711.9 1288.6,713.6 1286.1,715.2 1283.5,716.8 1281.0,718.5 1278.4,720.1 1275.8,721.7 1273.2,723.4 1270.6,725.0 1268.0,726.6 1265.4,728.2 1262.8,729.8 1260.2,731.4 1257.5,732.9 1254.9,734.5 1252.2,736.0 1249.5,737.6 1246.8,739.1 1244.1,740.5 1241.4,742.0 1238.7,743.4 1236.0,744.8 1233.2,746.2 1230.5,747.5 1227.7,748.8 1225.0,750.1 1222.2,751.3 1219.4,752.5 1216.6,753.7 1213.8,754.8 1211.0,755.8 1208.2,756.8 1205.4,757.8 1202.5,758.7 1199.7,759.5 1196.8,760.3 1194.0,761.1 1191.1,761.7 1188.2,762.3 1185.4,762.9 1182.5,763.4 1179.6,763.8 1176.7,764.1 1173.8,764.4 1170.8,764.6 1167.9,764.8 1165.0,764.9 1162.0,764.9 1159.1,764.9 1156.1,764.9 1153.2,764.8 1150.2,764.6 1147.3,764.4 1144.3,764.2 1141.3,763.9 1138.3,763.6 1135.3,763.3 1132.4,762.9 1129.4,762.5 1126.4,762.1 1123.4,761.6 1120.4,761.2 1117.4,760.7 1114.4,760.1 1111.4,759.6 1108.4,759.1 1105.3,758.5 1102.3,758.0 1099.3,757.4 1096.3,756.8 1093.3,756.3 1090.3,755.7 1087.3,755.1 1084.3,754.5 1081.3,753.8 1078.3,753.2 1075.3,752.5 1072.3,751.8 1069.4,751.1 1066.4,750.4 1063.5,749.7 1060.5,748.9 1057.6,748.1 1054.7,747.3 1051.8,746.4 1049.0,745.5 1046.1,744.6 1043.3,743.6 1040.5,742.6 1037.7,741.6 1035.0,740.5 1032.2,739.4 1029.5,738.3 1026.8,737.0 1024.2,735.8 1021.6,734.5 1019.0,733.2 1016.4,731.8 1013.9,730.3 1011.4,728.8 1008.9,727.2 1006.5,725.6 1004.1,723.9 1001.7,722.2 999.4,720.4 997.1,718.6 994.9,716.7 992.6,714.7 990.4,712.7 988.3,710.7 986.1,708.6 984.0,706.5 981.9,704.4 979.8,702.2 977.7,700.0 975.7,697.8 973.6,695.5 971.6,693.3 969.6,691.0 967.6,688.7 965.6,686.4 963.6,684.1 961.6,681.7 959.6,679.4 957.6,677.1 955.6,674.8 953.6,672.4 951.5,670.1 949.5,667.8 947.5,665.5 945.4,663.3 943.4,661.0 941.3,658.8 939.2,656.6 937.1,654.4 935.0,652.2 932.8,650.1 930.6,648.0 928.4,646.0 926.2,644.0 923.9,642.0 921.6,640.1 919.3,638.3 916.9,636.4 914.5,634.7 912.1,633.0 909.7,631.3 907.2,629.7 904.7,628.1 902.2,626.6 899.6,625.1 897.0,623.7 894.4,622.4 891.7,621.1 889.1,619.8 886.4,618.7 883.6,617.6 880.9,616.5 878.1,615.5 875.2,614.6 872.4,613.7 869.5,612.9 866.6,612.1 863.7,611.4 860.8,610.8 857.8,610.2 854.9,609.6 851.9,609.1 848.9,608.7 845.9,608.2 842.9,607.8 839.8,607.5 836.8,607.2 833.8,606.9 830.8,606.7 827.7,606.4 824.7,606.2 821.7,606.1 818.6,605.9 815.6,605.8 812.6,605.8 809.6,605.7 806.5,605.7 803.5,605.7 800.5,605.7 797.5,605.8 794.5,605.9 791.5,606.1 788.5,606.2 785.5,606.4 782.5,606.7 779.5,606.9 776.6,607.2 773.6,607.6 770.6,607.9 767.7,608.3 764.7,608.8 761.8,609.3 758.8,609.8 755.9,610.3 753.0,610.9 750.1,611.5 747.2,612.2 744.3,612.9 741.4,613.6 738.5,614.4 735.7,615.2 732.8,616.1 730.0,617.0 727.1,617.9 724.3,618.9 721.5,619.9 718.7,620.9 715.9,622.0 713.2,623.1 710.4,624.3 707.6,625.5 704.9,626.7 702.2,628.0 699.5,629.3 696.8,630.6 694.1,631.9 691.4,633.3 688.8,634.8 686.1,636.2 683.5,637.7 680.9,639.2 678.3,640.7 675.7,642.3 673.1,643.9 670.5,645.5 668.0,647.1 665.5,648.8 663.0,650.5 660.5,652.2 658.0,653.9 655.5,655.7 653.1,657.4 650.7,659.2 648.3,661.0 645.9,662.9 643.5,664.7 641.1,666.6 638.8,668.5 636.5,670.4 634.2,672.3 631.9,674.2 629.6,676.2 627.3,678.1 625.1,680.1 622.9,682.1 620.7,684.1 618.5,686.2 616.3,688.2 614.1,690.2 611.9,692.3 609.8,694.4 607.6,696.4 605.5,698.5 603.4,700.6 601.2,702.8 599.1,704.9 597.0,707.0 595.0,709.1 592.9,711.3 590.8,713.5 588.7,715.6 586.7,717.8 584.6,720.0 582.6,722.1 580.5,724.3 578.5,726.5 576.4,728.7 574.4,730.9 572.4,733.1 570.3,735.3 568.3,737.5 566.3,739.8 564.2,742.0 562.2,744.2 560.2,746.4 558.1,748.6 556.1,750.8 554.1,753.1 552.0,755.3 550.0,757.5 547.9,759.7 545.8,761.8 543.8,764.0 541.7,766.2 539.6,768.3 537.4,770.4 535.3,772.5 533.2,774.6 531.0,776.7 528.8,778.7 526.6,780.7 524.3,782.7 522.1,784.7 519.8,786.6 517.5,788.5 515.1,790.3 512.8,792.2 510.4,793.9 507.9,795.7 505.5,797.4 503.0,799.1 500.5,800.8 498.0,802.5 495.5,804.1 493.0,805.7 490.5,807.4 487.9,809.0 485.4,810.6 482.9,812.3 480.4,813.9 477.9,815.6 475.4,817.2 472.9,818.9 470.4,820.6 468.0,822.4 465.5,824.1 463.1,825.9 460.7,827.7 458.4,829.5 456.1,831.4 453.8,833.3 451.5,835.3 449.3,837.2 447.1,839.3 444.9,841.3 442.8,843.4 440.7,845.6 438.7,847.7 436.7,850.0 434.7,852.2 432.8,854.5 430.9,856.8 429.0,859.2 427.1,861.6 425.3,864.0 423.6,866.4 421.8,868.9 420.1,871.3 418.4,873.8 416.7,876.3 415.0,878.9 413.4,881.4 411.7,883.9 410.1,886.5 408.5,889.0Z"/>
</g>
<path d="M408.5,1160V1136M408.5,26V48.7M628.3,1160V1136M628.3,26V48.7M848.2,1160V1136M848.2,26V48.7M1068.0,1160V1136M1068.0,26V48.7M1287.8,1160V1136M1287.8,26V48.7M1507.7,1160V1136M1507.7,26V48.7M1727.5,1160V1136M1727.5,26V48.7M518.4,1160V1147.3M518.4,26V37.7M738.3,1160V1147.3M738.3,26V37.7M958.1,1160V1147.3M958.1,26V37.7M1177.9,1160V1147.3M1177.9,26V37.7M1397.8,1160V1147.3M1397.8,26V37.7M1617.6,1160V1147.3M1617.6,26V37.7M300,202.8H323M1837,202.8H1814M300,377.2H323M1837,377.2H1814M300,551.5H323M1837,551.5H1814M300,725.8H323M1837,725.8H1814M300,900.2H323M1837,900.2H1814M300,1074.5H323M1837,1074.5H1814M300,115.7H312.2M1837,115.7H1825.2M300,290.0H312.2M1837,290.0H1825.2M300,464.3H312.2M1837,464.3H1825.2M300,638.7H312.2M1837,638.7H1825.2M300,813.0H312.2M1837,813.0H1825.2M300,987.3H312.2M1837,987.3H1825.2" stroke="#000" stroke-width="5" fill="none" stroke-linecap="butt"/>
<rect x="298.5" y="24.5" width="1540" height="1137" fill="none" stroke="#000" stroke-width="7" stroke-linejoin="miter"/>
<rect x="807.5" y="52" width="562" height="348.5" fill="#fff" stroke="#000" stroke-width="3.3"/>
<path d="M836.9,91.6H975.1" stroke="#231F20" stroke-width="7.5" stroke-linecap="round" fill="none"/>
<text transform="translate(993.5,112.0) scale(1,1.035)" font-size="65.3" text-anchor="start">50 µg cm</text>
<text transform="translate(1263.8,78.7) scale(1,1.035)" font-size="32" text-anchor="start">-2</text>
<path d="M836.9,180.4H975.1" stroke="#ED1C24" stroke-width="7.5" stroke-linecap="round" fill="none"/>
<text transform="translate(993.5,201.0) scale(1,1.035)" font-size="65.3" text-anchor="start">75 µg cm</text>
<text transform="translate(1263.8,167.5) scale(1,1.035)" font-size="32" text-anchor="start">-2</text>
<path d="M836.9,269.1H975.1" stroke="#00A651" stroke-width="7.5" stroke-linecap="round" fill="none"/>
<text transform="translate(988.0,290.1) scale(1,1.035)" font-size="65.3" text-anchor="start">100 µg cm</text>
<text transform="translate(1293.8,256.7) scale(1,1.035)" font-size="32" text-anchor="start">-2</text>
<path d="M836.9,357.9H975.1" stroke="#0000FF" stroke-width="7.5" stroke-linecap="round" fill="none"/>
<text transform="translate(993.2,378.0) scale(1,1.035)" font-size="60.8" text-anchor="start">125 µg cm</text>
<text transform="translate(1278.7,347.1) scale(1,1.035)" font-size="30" text-anchor="start">-2</text>
<text transform="translate(274.0,61.3) scale(1,1.035)" font-size="68.2" text-anchor="end">0.06</text>
<text transform="translate(274.0,235.6) scale(1,1.035)" font-size="68.2" text-anchor="end">0.04</text>
<text transform="translate(274.0,410.0) scale(1,1.035)" font-size="68.2" text-anchor="end">0.02</text>
<text transform="translate(274.0,584.3) scale(1,1.035)" font-size="68.2" text-anchor="end">0.00</text>
<text transform="translate(279.0,758.6) scale(1,1.035)" font-size="68.2" text-anchor="end">-0.02</text>
<text transform="translate(279.0,933.0) scale(1,1.035)" font-size="68.2" text-anchor="end">-0.04</text>
<text transform="translate(279.0,1107.3) scale(1,1.035)" font-size="68.2" text-anchor="end">-0.06</text>
<text transform="translate(424.6,1227.5) scale(1,1.035)" font-size="68.2" text-anchor="middle">0.0</text>
<text transform="translate(644.4,1227.5) scale(1,1.035)" font-size="68.2" text-anchor="middle">0.2</text>
<text transform="translate(864.3,1227.5) scale(1,1.035)" font-size="68.2" text-anchor="middle">0.4</text>
<text transform="translate(1084.1,1227.5) scale(1,1.035)" font-size="68.2" text-anchor="middle">0.6</text>
<text transform="translate(1303.9,1227.5) scale(1,1.035)" font-size="68.2" text-anchor="middle">0.8</text>
<text transform="translate(1523.8,1227.5) scale(1,1.035)" font-size="68.2" text-anchor="middle">1.0</text>
<text transform="translate(1743.6,1227.5) scale(1,1.035)" font-size="68.2" text-anchor="middle">1.2</text>
<text transform="translate(1075.6,1322.6) scale(1,1.005)" font-size="76.5" text-anchor="middle">Potential (V) vs NHE</text>
<text transform="translate(72,603.5) rotate(-90) scale(1,1.005)" font-size="76.5" text-anchor="middle">Current (mA)</text>
</svg></body></html>
